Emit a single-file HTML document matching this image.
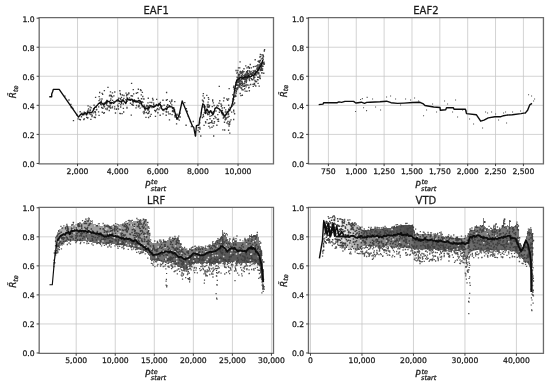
<!DOCTYPE html><html><head><meta charset="utf-8"><style>html,body{margin:0;padding:0;background:#fff;overflow:hidden}svg{display:block}</style></head><body><svg width="550" height="386" viewBox="0 0 550 386">
<style>text{font-family:'DejaVu Sans', 'Liberation Sans', sans-serif;fill:#1c1c1c;stroke:#1c1c1c;stroke-width:0.26px}.t{font-size:7.65px}.ti{font-size:10.0px}.m{font-size:8.9px;font-style:italic}.ms{font-size:6.5px;font-style:italic}.mt{font-size:5px;stroke-width:0.1px}</style>
<rect width="550" height="386" fill="#fff"/>
<path d="M77.53 17.7V163.7M117.66 17.7V163.7M157.79 17.7V163.7M197.92 17.7V163.7M238.05 17.7V163.7M39 134.4H273.4M39 105.34H273.4M39 76.28H273.4M39 47.22H273.4" stroke="#c4c4c4" stroke-width="0.75" fill="none"/>
<path d="M64.2 96.1h1.35M68.3 100.0h1.35M70.2 104.4h1.35M70.6 107.5h1.35M71.0 107.1h1.35M72.2 108.4h1.35M72.8 120.6h1.35M76.1 114.7h1.35M77.4 118.8h1.35M78.9 119.3h1.35M79.5 111.7h1.35M79.7 119.7h1.35M80.8 116.7h1.35M81.3 113.2h1.35M81.4 114.8h1.35M83.1 119.5h1.35M83.6 112.2h1.35M83.7 118.9h1.35M84.2 114.6h1.35M86.0 117.3h1.35M86.7 112.0h1.35M86.9 118.0h1.35M87.2 117.6h1.35M87.3 110.5h1.35M87.4 105.8h1.35M87.9 108.9h1.35M88.3 112.8h1.35M88.7 113.9h1.35M89.2 113.6h1.35M89.3 106.9h1.35M89.4 110.4h1.35M89.8 110.0h1.35M90.2 119.4h1.35M90.2 114.5h1.35M90.4 107.7h1.35M91.3 116.6h1.35M91.5 115.2h1.35M92.5 112.8h1.35M92.9 108.7h1.35M93.4 105.2h1.35M93.5 108.6h1.35M93.6 117.2h1.35M94.0 111.8h1.35M94.4 111.8h1.35M94.6 111.7h1.35M94.7 117.5h1.35M94.8 112.9h1.35M94.9 97.4h1.35M95.1 114.9h1.35M95.3 107.4h1.35M95.7 109.8h1.35M96.1 109.5h1.35M97.9 111.8h1.35M98.0 106.9h1.35M98.4 100.6h1.35M98.4 115.4h1.35M98.5 96.6h1.35M99.0 92.5h1.35M99.0 103.1h1.35M99.2 99.1h1.35M99.8 103.0h1.35M100.0 104.2h1.35M100.6 104.7h1.35M100.6 102.0h1.35M100.7 100.9h1.35M101.0 107.4h1.35M101.3 99.0h1.35M101.4 107.9h1.35M101.5 93.4h1.35M101.6 112.2h1.35M102.0 94.4h1.35M102.2 108.4h1.35M102.8 103.5h1.35M103.1 113.2h1.35M103.2 105.2h1.35M103.4 106.7h1.35M103.7 90.6h1.35M103.7 112.6h1.35M103.9 106.8h1.35M104.2 103.1h1.35M104.4 102.9h1.35M104.9 108.8h1.35M105.2 102.0h1.35M105.7 104.1h1.35M105.7 103.9h1.35M106.2 100.3h1.35M106.3 103.1h1.35M106.4 105.3h1.35M106.4 109.5h1.35M106.5 101.7h1.35M106.6 101.6h1.35M106.6 108.1h1.35M107.3 87.3h1.35M107.4 105.9h1.35M107.7 105.8h1.35M108.0 105.9h1.35M108.3 107.1h1.35M108.6 110.5h1.35M108.8 95.8h1.35M109.3 106.6h1.35M109.3 95.2h1.35M109.3 103.2h1.35M109.5 105.2h1.35M109.5 105.2h1.35M109.8 108.0h1.35M109.8 100.6h1.35M109.8 91.9h1.35M110.2 99.0h1.35M110.6 96.5h1.35M110.6 103.6h1.35M110.7 95.3h1.35M111.4 107.8h1.35M111.8 106.9h1.35M111.8 92.8h1.35M111.8 96.8h1.35M111.9 100.3h1.35M113.2 95.8h1.35M113.2 101.6h1.35M113.9 108.8h1.35M114.0 106.9h1.35M114.1 92.0h1.35M114.8 113.0h1.35M115.7 109.2h1.35M116.0 108.8h1.35M116.6 99.7h1.35M117.1 105.2h1.35M117.5 106.5h1.35M117.6 99.7h1.35M117.8 109.0h1.35M118.1 98.2h1.35M118.4 100.8h1.35M118.4 103.3h1.35M119.2 90.7h1.35M119.2 113.3h1.35M119.6 93.4h1.35M119.7 113.6h1.35M119.8 98.7h1.35M119.9 94.6h1.35M120.0 107.0h1.35M120.1 104.7h1.35M120.2 99.5h1.35M120.8 97.3h1.35M120.8 103.4h1.35M121.0 101.1h1.35M121.4 113.6h1.35M121.7 95.0h1.35M122.2 100.9h1.35M122.6 104.0h1.35M122.7 108.3h1.35M123.0 112.0h1.35M123.2 98.4h1.35M123.3 95.5h1.35M125.2 99.7h1.35M125.4 93.1h1.35M125.5 102.4h1.35M125.9 95.9h1.35M126.2 94.7h1.35M126.3 97.9h1.35M126.3 107.3h1.35M126.3 108.1h1.35M126.3 101.4h1.35M127.1 94.5h1.35M128.1 92.9h1.35M128.2 93.5h1.35M128.5 100.1h1.35M128.8 97.8h1.35M129.8 103.2h1.35M130.5 95.7h1.35M130.6 115.1h1.35M130.9 83.3h1.35M131.1 104.3h1.35M131.8 104.7h1.35M131.8 96.0h1.35M132.1 101.2h1.35M132.2 105.1h1.35M132.5 102.7h1.35M132.6 89.6h1.35M132.6 105.3h1.35M133.0 93.9h1.35M133.0 101.1h1.35M133.5 101.3h1.35M133.9 101.2h1.35M133.9 100.3h1.35M134.9 100.6h1.35M135.3 107.9h1.35M135.4 107.9h1.35M135.6 101.5h1.35M135.7 93.2h1.35M135.9 105.5h1.35M136.3 101.0h1.35M137.0 92.6h1.35M137.5 102.2h1.35M137.6 98.2h1.35M137.7 89.2h1.35M137.7 106.8h1.35M138.1 105.6h1.35M138.2 105.3h1.35M138.3 102.1h1.35M138.6 106.1h1.35M138.9 103.5h1.35M139.4 108.1h1.35M139.5 102.4h1.35M139.5 101.1h1.35M139.9 89.7h1.35M140.0 103.6h1.35M140.4 90.6h1.35M140.5 103.9h1.35M140.6 94.9h1.35M140.8 98.7h1.35M141.4 101.6h1.35M141.5 106.8h1.35M141.7 92.3h1.35M142.1 96.5h1.35M142.2 102.4h1.35M142.6 112.1h1.35M142.7 98.9h1.35M143.2 113.6h1.35M143.3 99.0h1.35M143.5 105.1h1.35M143.5 111.4h1.35M143.5 106.4h1.35M144.1 112.6h1.35M144.2 107.0h1.35M144.5 110.0h1.35M144.6 108.7h1.35M144.9 108.8h1.35M144.9 108.5h1.35M145.1 107.3h1.35M145.3 117.4h1.35M145.9 112.5h1.35M146.0 105.4h1.35M146.1 106.0h1.35M146.5 105.7h1.35M147.1 113.6h1.35M147.2 110.0h1.35M147.2 107.7h1.35M147.3 102.8h1.35M147.4 109.2h1.35M147.6 106.2h1.35M147.6 98.2h1.35M147.8 109.9h1.35M147.8 106.1h1.35M147.9 117.5h1.35M147.9 113.4h1.35M148.0 108.9h1.35M148.0 113.0h1.35M148.6 111.5h1.35M148.9 105.4h1.35M149.4 102.3h1.35M149.6 116.2h1.35M150.5 114.3h1.35M151.1 102.5h1.35M151.3 107.6h1.35M151.9 98.5h1.35M152.4 100.0h1.35M153.0 103.1h1.35M153.0 104.6h1.35M153.5 105.7h1.35M154.0 110.4h1.35M154.8 111.6h1.35M154.8 116.4h1.35M154.9 105.3h1.35M155.3 110.6h1.35M156.0 99.3h1.35M156.2 109.4h1.35M157.0 108.6h1.35M157.2 112.7h1.35M158.3 109.6h1.35M159.3 108.0h1.35M159.3 104.7h1.35M159.4 104.2h1.35M159.5 115.2h1.35M159.7 102.4h1.35M161.1 105.8h1.35M161.1 105.6h1.35M161.1 106.4h1.35M162.3 100.2h1.35M162.4 113.9h1.35M163.2 110.5h1.35M163.4 105.2h1.35M165.5 111.5h1.35M165.5 115.2h1.35M165.7 112.1h1.35M165.7 100.2h1.35M165.9 92.5h1.35M166.0 106.5h1.35M166.6 99.6h1.35M166.9 104.6h1.35M167.3 105.2h1.35M167.5 112.0h1.35M168.1 113.9h1.35M168.8 119.9h1.35M169.1 101.4h1.35M169.6 113.8h1.35M170.0 103.0h1.35M171.1 101.2h1.35M171.1 101.0h1.35M171.1 104.8h1.35M171.2 99.8h1.35M171.4 114.6h1.35M171.8 111.4h1.35M171.8 108.4h1.35M171.9 110.5h1.35M172.5 110.9h1.35M172.7 111.7h1.35M173.1 107.9h1.35M173.6 110.0h1.35M173.9 109.9h1.35M174.1 101.6h1.35M174.2 115.9h1.35M174.3 115.4h1.35M174.5 117.0h1.35M175.2 115.2h1.35M175.9 123.9h1.35M176.3 114.1h1.35M176.3 118.0h1.35M176.4 114.9h1.35M176.8 118.6h1.35M177.3 119.0h1.35M177.7 115.3h1.35M178.6 120.1h1.35M179.1 116.9h1.35M179.3 113.2h1.35M179.5 117.0h1.35M184.1 102.6h1.35M185.4 125.2h1.35M185.7 108.6h1.35M186.3 111.1h1.35M186.5 111.4h1.35M187.7 116.4h1.35M189.7 121.6h1.35M190.7 126.5h1.35M192.6 121.5h1.35M194.8 135.6h1.35M197.4 130.4h1.35M197.7 127.6h1.35M198.6 131.7h1.35M199.1 127.5h1.35M199.2 122.8h1.35M199.3 129.0h1.35M200.1 136.0h1.35M200.7 112.8h1.35M201.7 117.5h1.35M201.8 100.1h1.35M202.0 106.2h1.35M202.1 106.1h1.35M202.2 103.8h1.35M202.4 95.9h1.35M202.4 107.1h1.35M202.5 101.0h1.35M202.6 114.7h1.35M202.7 93.6h1.35M202.8 101.8h1.35M202.9 116.5h1.35M203.4 125.3h1.35M203.6 112.8h1.35M203.7 98.0h1.35M204.5 106.8h1.35M204.7 110.4h1.35M204.8 112.3h1.35M204.9 121.7h1.35M205.1 122.9h1.35M205.8 109.2h1.35M205.8 110.3h1.35M206.1 95.4h1.35M206.2 109.8h1.35M206.2 112.8h1.35M206.5 119.6h1.35M206.6 106.8h1.35M206.6 104.9h1.35M206.7 113.5h1.35M206.9 110.3h1.35M207.0 114.6h1.35M207.3 105.8h1.35M207.3 114.5h1.35M207.4 102.1h1.35M207.4 104.3h1.35M207.4 107.4h1.35M207.7 97.6h1.35M207.7 123.3h1.35M208.1 99.4h1.35M208.2 107.0h1.35M208.3 126.3h1.35M208.4 123.2h1.35M208.5 114.0h1.35M208.6 106.7h1.35M208.7 111.5h1.35M208.8 105.5h1.35M209.3 127.8h1.35M209.3 118.7h1.35M209.3 116.2h1.35M209.6 122.6h1.35M209.7 111.6h1.35M209.8 111.5h1.35M210.9 115.6h1.35M211.0 122.2h1.35M211.2 120.7h1.35M211.3 127.2h1.35M211.3 112.3h1.35M211.6 106.6h1.35M211.6 123.1h1.35M212.0 112.3h1.35M212.0 100.0h1.35M212.0 101.1h1.35M212.7 102.8h1.35M212.8 111.6h1.35M212.8 125.8h1.35M213.0 136.0h1.35M213.1 118.6h1.35M213.3 123.4h1.35M213.4 105.5h1.35M213.8 121.7h1.35M214.3 116.5h1.35M214.7 108.2h1.35M215.2 117.7h1.35M215.3 111.0h1.35M216.0 107.2h1.35M216.0 107.0h1.35M216.2 125.2h1.35M216.7 105.3h1.35M216.7 119.3h1.35M217.1 114.6h1.35M217.5 121.2h1.35M217.6 105.8h1.35M217.8 119.2h1.35M217.9 121.3h1.35M218.4 103.2h1.35M218.6 86.3h1.35M218.7 112.2h1.35M219.0 109.8h1.35M219.1 100.7h1.35M220.3 104.0h1.35M220.6 106.3h1.35M220.6 111.5h1.35M221.1 105.3h1.35M221.5 111.9h1.35M221.5 108.0h1.35M221.7 110.3h1.35M221.8 114.7h1.35M222.2 129.8h1.35M222.6 118.1h1.35M222.9 100.8h1.35M222.9 116.9h1.35M223.2 114.8h1.35M223.4 98.0h1.35M223.7 107.7h1.35M223.8 122.2h1.35M224.0 117.0h1.35M224.0 117.1h1.35M224.0 130.0h1.35M224.5 119.6h1.35M224.7 119.9h1.35M224.7 112.0h1.35M224.7 118.0h1.35M225.0 109.9h1.35M225.2 119.3h1.35M225.8 114.5h1.35M225.9 118.0h1.35M226.2 112.0h1.35M226.2 99.0h1.35M226.3 123.0h1.35M226.8 99.9h1.35M227.1 100.3h1.35M227.3 121.5h1.35M227.3 111.6h1.35M227.3 117.2h1.35M227.3 112.7h1.35M227.3 111.3h1.35M227.5 114.5h1.35M227.7 124.0h1.35M227.9 114.0h1.35M227.9 130.2h1.35M228.0 109.2h1.35M228.0 98.8h1.35M228.0 105.2h1.35M228.4 126.0h1.35M228.4 116.4h1.35M228.5 88.6h1.35M229.0 122.7h1.35M229.0 124.4h1.35M229.1 133.1h1.35M229.2 110.5h1.35M229.3 121.4h1.35M229.3 109.9h1.35M229.4 107.3h1.35M230.3 119.9h1.35M231.0 112.1h1.35M231.4 106.0h1.35M231.9 101.2h1.35M232.1 99.0h1.35M232.2 94.7h1.35M232.5 104.7h1.35M232.9 87.4h1.35M233.0 110.2h1.35M233.0 119.5h1.35M233.1 99.6h1.35M233.1 111.9h1.35M233.2 86.2h1.35M233.3 103.9h1.35M233.6 89.0h1.35M233.7 89.3h1.35M233.7 88.4h1.35M233.9 113.7h1.35M233.9 103.1h1.35M234.0 96.9h1.35M234.0 102.8h1.35M234.1 95.8h1.35M234.9 88.4h1.35M235.0 95.2h1.35M235.1 90.5h1.35M235.2 90.8h1.35M235.2 96.3h1.35M235.3 92.4h1.35M235.4 82.7h1.35M235.4 93.3h1.35M235.4 70.5h1.35M235.5 85.4h1.35M235.6 88.7h1.35M235.7 91.2h1.35M235.8 88.1h1.35M236.0 84.3h1.35M236.2 80.9h1.35M236.2 81.4h1.35M236.2 73.1h1.35M236.5 89.6h1.35M236.5 77.2h1.35M236.6 81.7h1.35M236.8 72.1h1.35M236.9 85.4h1.35M237.0 80.4h1.35M237.0 82.6h1.35M237.1 88.5h1.35M237.1 79.5h1.35M237.1 88.2h1.35M237.2 70.3h1.35M237.2 87.5h1.35M237.3 84.8h1.35M237.3 79.3h1.35M237.3 81.0h1.35M237.7 74.2h1.35M237.7 78.1h1.35M237.7 75.5h1.35M237.8 80.2h1.35M237.8 81.7h1.35M237.8 77.3h1.35M237.8 67.8h1.35M237.9 80.4h1.35M238.0 86.8h1.35M238.0 79.0h1.35M238.1 82.4h1.35M238.1 85.3h1.35M238.3 77.2h1.35M238.4 81.3h1.35M238.4 76.0h1.35M238.5 81.8h1.35M238.6 78.9h1.35M238.6 74.5h1.35M238.7 80.6h1.35M238.8 84.9h1.35M238.8 79.4h1.35M238.9 80.0h1.35M238.9 83.4h1.35M239.0 85.2h1.35M239.0 84.4h1.35M239.0 77.8h1.35M239.0 78.1h1.35M239.1 81.9h1.35M239.1 67.8h1.35M239.1 86.0h1.35M239.2 72.1h1.35M239.2 74.1h1.35M239.3 84.1h1.35M239.4 61.9h1.35M239.4 87.3h1.35M239.5 93.5h1.35M239.7 71.4h1.35M239.7 84.4h1.35M239.7 80.4h1.35M240.2 83.1h1.35M240.2 95.6h1.35M240.3 73.4h1.35M240.5 88.3h1.35M240.5 81.4h1.35M240.5 72.1h1.35M240.6 79.2h1.35M240.6 83.4h1.35M240.6 75.7h1.35M240.6 76.5h1.35M240.8 72.9h1.35M240.8 85.5h1.35M240.8 72.0h1.35M240.9 75.9h1.35M241.0 88.0h1.35M241.0 72.5h1.35M241.1 78.7h1.35M241.2 79.9h1.35M241.2 78.8h1.35M241.3 78.0h1.35M241.3 79.0h1.35M241.4 89.7h1.35M241.4 78.9h1.35M241.4 81.7h1.35M241.5 72.1h1.35M241.6 82.7h1.35M241.6 74.4h1.35M241.6 84.0h1.35M241.7 95.2h1.35M241.8 77.9h1.35M241.8 84.3h1.35M242.0 71.0h1.35M242.0 76.6h1.35M242.0 85.8h1.35M242.0 77.6h1.35M242.3 72.9h1.35M242.4 86.0h1.35M242.4 75.9h1.35M242.6 89.8h1.35M243.1 79.4h1.35M243.1 83.9h1.35M243.2 86.3h1.35M243.3 68.7h1.35M243.3 71.6h1.35M243.3 78.5h1.35M243.3 79.3h1.35M243.4 83.3h1.35M243.5 77.7h1.35M243.6 78.1h1.35M243.6 75.2h1.35M243.7 86.0h1.35M243.7 86.2h1.35M243.8 85.9h1.35M243.9 83.6h1.35M244.0 76.2h1.35M244.0 78.6h1.35M244.0 88.7h1.35M244.1 81.7h1.35M244.1 78.7h1.35M244.3 78.1h1.35M244.3 80.1h1.35M244.4 85.4h1.35M244.5 91.1h1.35M244.5 74.2h1.35M244.7 74.6h1.35M244.8 79.6h1.35M244.9 74.9h1.35M245.0 75.4h1.35M245.1 77.2h1.35M245.1 65.9h1.35M245.3 76.3h1.35M245.3 78.1h1.35M245.4 86.8h1.35M245.5 85.0h1.35M245.5 81.1h1.35M245.5 85.0h1.35M245.5 78.8h1.35M245.5 73.1h1.35M245.6 82.5h1.35M245.7 75.4h1.35M245.8 79.5h1.35M245.8 75.1h1.35M245.9 71.6h1.35M246.0 80.8h1.35M246.1 78.0h1.35M246.2 91.2h1.35M246.2 72.8h1.35M246.3 67.8h1.35M246.3 74.7h1.35M246.5 76.9h1.35M246.6 72.4h1.35M246.6 85.0h1.35M246.6 77.6h1.35M246.7 73.5h1.35M246.8 76.8h1.35M246.8 71.5h1.35M246.8 78.5h1.35M247.0 74.6h1.35M247.0 73.5h1.35M247.0 70.6h1.35M247.1 76.7h1.35M247.2 78.4h1.35M247.2 76.2h1.35M247.3 75.6h1.35M247.3 74.7h1.35M247.4 74.8h1.35M247.6 66.7h1.35M247.7 76.6h1.35M247.9 73.4h1.35M248.0 87.9h1.35M248.1 77.2h1.35M248.2 85.1h1.35M248.3 67.3h1.35M248.4 87.3h1.35M248.6 68.3h1.35M248.6 79.6h1.35M248.6 79.6h1.35M248.7 75.0h1.35M248.7 77.2h1.35M248.7 70.8h1.35M248.7 90.7h1.35M248.8 67.7h1.35M248.9 80.6h1.35M249.0 74.8h1.35M249.1 72.1h1.35M249.2 78.4h1.35M249.2 77.2h1.35M249.5 74.0h1.35M249.6 64.5h1.35M250.0 84.5h1.35M250.1 73.0h1.35M250.2 74.5h1.35M250.4 71.4h1.35M250.7 67.8h1.35M250.8 74.3h1.35M250.9 78.7h1.35M251.1 73.4h1.35M251.2 79.6h1.35M251.2 74.5h1.35M251.7 79.7h1.35M251.8 73.1h1.35M252.0 72.7h1.35M252.1 79.9h1.35M252.3 84.3h1.35M252.5 70.8h1.35M252.6 86.4h1.35M252.8 66.7h1.35M252.9 76.7h1.35M253.1 78.9h1.35M253.1 75.8h1.35M253.2 73.3h1.35M253.2 78.1h1.35M253.2 72.0h1.35M253.2 71.0h1.35M253.2 72.8h1.35M253.3 76.6h1.35M253.3 73.3h1.35M253.3 75.9h1.35M253.4 75.3h1.35M253.4 77.3h1.35M253.4 84.1h1.35M253.7 83.3h1.35M253.8 74.1h1.35M253.8 83.4h1.35M254.0 84.8h1.35M254.1 77.3h1.35M254.3 80.3h1.35M254.4 74.3h1.35M254.5 59.7h1.35M254.5 66.4h1.35M254.6 70.4h1.35M254.6 81.4h1.35M254.6 71.4h1.35M254.8 73.8h1.35M254.9 73.1h1.35M255.1 86.0h1.35M255.3 71.8h1.35M255.3 75.2h1.35M255.3 81.9h1.35M255.4 74.3h1.35M255.9 65.8h1.35M255.9 81.3h1.35M256.2 68.8h1.35M256.2 71.8h1.35M256.2 72.9h1.35M256.3 66.0h1.35M256.4 69.2h1.35M256.4 67.9h1.35M256.6 68.8h1.35M256.8 70.5h1.35M256.8 79.6h1.35M256.8 72.3h1.35M256.9 68.1h1.35M257.1 77.2h1.35M257.1 65.0h1.35M257.2 73.9h1.35M257.3 68.2h1.35M257.3 68.9h1.35M257.3 67.2h1.35M257.3 64.8h1.35M257.3 70.6h1.35M257.4 61.3h1.35M257.4 79.8h1.35M257.4 83.3h1.35M257.7 77.4h1.35M257.9 67.7h1.35M258.0 70.2h1.35M258.0 72.5h1.35M258.1 69.0h1.35M258.1 72.9h1.35M258.2 66.9h1.35M258.2 73.9h1.35M258.3 60.9h1.35M258.5 62.2h1.35M258.5 86.1h1.35M258.6 65.9h1.35M258.7 66.5h1.35M258.8 62.0h1.35M258.8 64.9h1.35M258.8 67.2h1.35M259.1 76.5h1.35M259.2 78.0h1.35M259.2 57.0h1.35M259.2 75.5h1.35M259.3 61.0h1.35M259.5 64.9h1.35M259.6 66.9h1.35M259.6 78.6h1.35M259.7 54.5h1.35M259.7 60.3h1.35M259.7 65.4h1.35M259.7 63.5h1.35M259.8 69.0h1.35M259.8 65.1h1.35M259.8 70.5h1.35M259.9 63.4h1.35M260.0 56.6h1.35M260.3 64.4h1.35M260.5 70.2h1.35M260.5 69.6h1.35M260.6 66.9h1.35M260.7 70.4h1.35M260.7 58.8h1.35M260.8 66.5h1.35M260.9 63.0h1.35M261.0 68.2h1.35M261.1 70.4h1.35M261.2 66.4h1.35M261.2 54.8h1.35M261.2 69.1h1.35M261.2 72.7h1.35M261.3 73.1h1.35M261.3 65.6h1.35M261.4 63.2h1.35M261.5 64.0h1.35M261.8 70.3h1.35M261.9 58.1h1.35M261.9 68.8h1.35M261.9 54.8h1.35M262.1 58.3h1.35M262.2 62.5h1.35M262.3 66.2h1.35M262.4 55.1h1.35M262.4 62.4h1.35M262.5 56.8h1.35M262.5 59.5h1.35M262.6 55.3h1.35M262.8 56.6h1.35M263.0 63.9h1.35M263.1 73.2h1.35M263.2 62.8h1.35M263.3 62.2h1.35M263.4 64.4h1.35M263.6 51.0h1.35M263.7 63.8h1.35M263.9 49.6h1.35" stroke="#404040" stroke-width="1.35" fill="none"/>
<path d="M49.3 96.7 L51.7 96.7 L51.7 94.0 L52.6 91.7 L53.4 89.3 L59.2 89.3 L78.5 117.1 L80.2 115.0 L81.4 113.8 L82.4 114.1 L83.1 115.0 L84.1 113.2 L84.9 113.2 L85.7 112.8 L86.6 115.0 L87.8 112.0 L88.7 112.2 L90.0 112.2 L91.4 112.7 L92.6 111.6 L93.5 109.9 L94.6 107.4 L95.7 107.0 L96.5 106.0 L97.8 104.8 L98.5 103.5 L99.4 103.4 L100.5 102.1 L101.4 102.8 L102.5 103.8 L103.5 104.9 L104.5 104.0 L105.3 103.0 L106.4 102.8 L107.1 100.7 L108.4 101.6 L109.2 101.4 L110.2 102.4 L111.0 103.3 L111.7 102.4 L112.8 102.8 L113.9 103.3 L114.4 102.2 L115.6 101.6 L116.3 100.6 L117.2 101.0 L118.1 100.2 L118.9 101.1 L119.7 101.5 L120.6 101.4 L121.5 102.3 L122.5 100.0 L123.4 99.9 L124.0 101.6 L124.9 102.1 L125.8 103.6 L126.6 101.2 L127.5 98.3 L128.3 99.7 L129.2 99.9 L130.1 99.2 L130.7 100.4 L131.6 99.1 L132.3 99.6 L133.2 101.2 L134.1 99.9 L135.0 101.7 L135.9 101.7 L137.0 102.1 L138.2 100.9 L139.0 100.2 L140.0 101.0 L141.0 101.7 L142.0 105.4 L142.9 105.9 L143.9 106.9 L144.8 108.9 L146.0 108.7 L146.8 108.5 L147.8 108.8 L148.8 107.4 L149.5 107.9 L150.4 105.6 L151.4 105.8 L152.1 106.6 L153.1 106.3 L153.8 107.3 L154.7 106.4 L155.6 106.2 L156.7 104.5 L157.3 105.1 L158.3 105.9 L159.0 103.5 L160.1 104.3 L160.8 106.2 L161.8 108.7 L162.7 110.1 L163.4 109.6 L164.5 109.1 L165.2 109.1 L166.0 108.2 L166.7 109.6 L167.7 107.1 L168.9 107.2 L169.5 105.7 L170.5 106.9 L171.7 106.8 L172.6 107.7 L173.7 108.2 L177.0 119.2 L178.9 116.0 L182.2 101.0 L192.5 126.3 L193.8 127.6 L194.5 131.5 L195.5 136.0 L196.4 125.7 L199.0 125.0 L199.9 118.2 L200.8 115.9 L201.7 109.1 L202.8 104.2 L204.3 105.0 L205.4 113.5 L206.2 110.6 L207.1 109.2 L208.4 112.1 L209.3 112.8 L210.7 110.6 L211.6 112.5 L212.8 114.9 L213.9 112.6 L215.0 108.5 L216.0 107.9 L217.1 107.8 L218.1 108.5 L218.9 108.6 L219.9 109.9 L221.1 110.5 L222.0 113.5 L222.8 112.8 L223.7 115.1 L224.9 116.3 L226.4 113.5 L227.2 112.8 L228.2 111.6 L229.2 110.6 L230.2 108.7 L231.3 107.0 L232.3 103.6 L233.0 101.4 L234.2 92.8 L235.0 88.0 L236.4 81.3 L237.4 79.1 L238.5 79.2 L240.0 77.7 L241.0 77.5 L242.1 78.0 L242.8 78.5 L243.8 77.6 L244.7 77.0 L245.7 77.0 L246.6 77.1 L247.7 77.2 L248.5 75.6 L249.4 76.3 L250.6 76.7 L251.4 76.3 L252.3 74.9 L253.1 75.4 L254.2 74.9 L255.2 73.7 L256.1 72.0 L257.1 71.3 L258.2 69.6 L258.8 69.3 L259.9 67.1 L261.0 65.8 L262.0 62.8 L262.8 60.0" stroke="#0d0d0d" stroke-width="1.35" fill="none" stroke-linejoin="round"/>
<path d="M39.18 17.7H273.5V163.8H39.18Z" fill="none" stroke="#6a6a6a" stroke-width="1.3"/>
<path d="M77.53 163.7v2.4M117.66 163.7v2.4M157.79 163.7v2.4M197.92 163.7v2.4M238.05 163.7v2.4M39 163.46h-2.4M39 134.4h-2.4M39 105.34h-2.4M39 76.28h-2.4M39 47.22h-2.4M39 18.16h-2.4" stroke="#222" stroke-width="0.85" fill="none"/>
<text x="77.53" y="173.75" text-anchor="middle" class="t">2,000</text>
<text x="117.66" y="173.75" text-anchor="middle" class="t">4,000</text>
<text x="157.79" y="173.75" text-anchor="middle" class="t">6,000</text>
<text x="197.92" y="173.75" text-anchor="middle" class="t">8,000</text>
<text x="238.05" y="173.75" text-anchor="middle" class="t">10,000</text>
<text x="34.6" y="166.96" text-anchor="end" class="t">0.0</text>
<text x="34.6" y="137.9" text-anchor="end" class="t">0.2</text>
<text x="34.6" y="108.84" text-anchor="end" class="t">0.4</text>
<text x="34.6" y="79.78" text-anchor="end" class="t">0.6</text>
<text x="34.6" y="50.72" text-anchor="end" class="t">0.8</text>
<text x="34.6" y="21.66" text-anchor="end" class="t">1.0</text>
<text x="156.2" y="14.4" text-anchor="middle" class="ti">EAF1</text>
<text x="145" y="187.7" class="m">P</text>
<text x="151.1" y="184.1" class="ms">te</text>
<text x="150.8" y="190.6" class="ms">start</text>
<g transform="translate(16.3,98.2) rotate(-90)"><text x="0" y="0" class="m">R</text><text x="2.2" y="-3" class="m" style="font-style:normal;font-size:7.5px;stroke-width:0.1px">&#x2DC;</text><text x="6.1" y="1.3" class="ms">te</text></g>
<path d="M328.4 17.7V163.7M356.26 17.7V163.7M384.12 17.7V163.7M411.97 17.7V163.7M439.83 17.7V163.7M467.69 17.7V163.7M495.54 17.7V163.7M523.4 17.7V163.7M308.5 134.4H543.3M308.5 105.34H543.3M308.5 76.28H543.3M308.5 47.22H543.3" stroke="#c4c4c4" stroke-width="0.75" fill="none"/>
<path d="M355.0 111.5h1.1M360.0 99.5h1.1M361.8 98.6h1.1M363.0 107.7h1.1M366.0 110.6h1.1M366.6 97.4h1.1M372.0 99.0h1.1M375.0 107.0h1.1M380.0 110.0h1.1M386.0 97.0h1.1M390.0 96.0h1.1M395.0 99.0h1.1M400.0 105.0h1.1M405.0 99.0h1.1M410.0 100.0h1.1M414.0 98.0h1.1M418.0 101.0h1.1M423.0 115.7h1.1M426.0 110.0h1.1M432.0 104.0h1.1M436.0 112.0h1.1M444.0 101.0h1.1M447.0 104.0h1.1M452.0 112.0h1.1M455.0 100.0h1.1M457.0 117.0h1.1M462.0 110.0h1.1M466.0 111.0h1.1M469.0 119.0h1.1M473.0 124.0h1.1M482.0 128.0h1.1M485.0 112.0h1.1M487.0 113.0h1.1M491.0 112.0h1.1M495.0 114.0h1.1M498.0 120.0h1.1M503.0 113.0h1.1M505.0 112.0h1.1M506.0 123.0h1.1M507.0 115.0h1.1M512.0 112.0h1.1M520.0 111.0h1.1M525.0 113.0h1.1M528.0 94.8h1.1M531.0 96.0h1.1M533.0 101.0h1.1M534.0 99.0h1.1" stroke="#555" stroke-width="1.1" fill="none"/>
<path d="M318.7 104.6 L323.1 104.1 L323.6 102.7 L337.3 102.7 L338.9 101.9 L341.6 102.4 L344.9 101.4 L353.6 101.4 L355.8 103.0 L358.0 102.7 L361.3 102.2 L364.5 103.3 L366.7 102.4 L370.0 102.2 L380.0 101.8 L386.6 101.2 L391.0 102.7 L397.5 103.4 L404.0 103.1 L412.8 102.5 L420.0 102.3 L423.4 103.9 L425.0 105.5 L433.7 107.0 L440.0 107.5 L440.3 110.3 L445.7 109.8 L446.5 107.7 L453.4 107.7 L454.0 109.2 L465.4 109.2 L466.5 113.6 L476.3 114.7 L478.5 117.9 L480.7 121.2 L484.0 120.1 L488.3 117.9 L494.9 116.8 L500.3 116.8 L503.6 115.7 L506.9 115.1 L512.3 114.7 L521.0 113.6 L525.4 112.9 L527.6 110.3 L529.8 104.8 L532.0 103.3" stroke="#0d0d0d" stroke-width="1.4" fill="none" stroke-linejoin="round"/>
<path d="M308.45 17.7H543.45V163.8H308.45Z" fill="none" stroke="#6a6a6a" stroke-width="1.3"/>
<path d="M328.4 163.7v2.4M356.26 163.7v2.4M384.12 163.7v2.4M411.97 163.7v2.4M439.83 163.7v2.4M467.69 163.7v2.4M495.54 163.7v2.4M523.4 163.7v2.4M308.5 163.46h-2.4M308.5 134.4h-2.4M308.5 105.34h-2.4M308.5 76.28h-2.4M308.5 47.22h-2.4M308.5 18.16h-2.4" stroke="#222" stroke-width="0.85" fill="none"/>
<text x="328.4" y="173.75" text-anchor="middle" class="t">750</text>
<text x="356.26" y="173.75" text-anchor="middle" class="t">1,000</text>
<text x="384.12" y="173.75" text-anchor="middle" class="t">1,250</text>
<text x="411.97" y="173.75" text-anchor="middle" class="t">1,500</text>
<text x="439.83" y="173.75" text-anchor="middle" class="t">1,750</text>
<text x="467.69" y="173.75" text-anchor="middle" class="t">2,000</text>
<text x="495.54" y="173.75" text-anchor="middle" class="t">2,250</text>
<text x="523.4" y="173.75" text-anchor="middle" class="t">2,500</text>
<text x="304.1" y="166.96" text-anchor="end" class="t">0.0</text>
<text x="304.1" y="137.9" text-anchor="end" class="t">0.2</text>
<text x="304.1" y="108.84" text-anchor="end" class="t">0.4</text>
<text x="304.1" y="79.78" text-anchor="end" class="t">0.6</text>
<text x="304.1" y="50.72" text-anchor="end" class="t">0.8</text>
<text x="304.1" y="21.66" text-anchor="end" class="t">1.0</text>
<text x="425.9" y="14.4" text-anchor="middle" class="ti">EAF2</text>
<text x="415.3" y="187.7" class="m">P</text>
<text x="421.4" y="184.1" class="ms">te</text>
<text x="421.1" y="190.6" class="ms">start</text>
<g transform="translate(286.8,97.3) rotate(-90)"><text x="0" y="0" class="m">R</text><text x="2.2" y="-3" class="m" style="font-style:normal;font-size:7.5px;stroke-width:0.1px">&#x2DC;</text><text x="6.1" y="1.3" class="ms">te</text></g>
<path d="M76.2 207.3V353.4M115.25 207.3V353.4M154.3 207.3V353.4M193.35 207.3V353.4M232.4 207.3V353.4M271.45 207.3V353.4M39 323.94H273.4M39 294.9H273.4M39 265.86H273.4M39 236.82H273.4" stroke="#c4c4c4" stroke-width="0.75" fill="none"/>
<path d="M53 262.0h1V266.0h-1zM54 250.0h1V259.9h-1zM55 238.0h1V252.7h-1zM56 235.2h1V245.4h-1zM85 220.6h1V231.4h-1zM86 220.0h1V231.6h-1zM87 220.5h1V231.7h-1zM88 218.8h1V231.9h-1z" fill="rgb(168,168,168)" shape-rendering="crispEdges"/>
<path d="M54 259.9h1V261.0h-1zM55 252.7h1V256.0h-1zM56 245.4h1V253.0h-1zM57 240.5h1V250.0h-1zM58 238.9h1V247.0h-1zM59 237.4h1V246.3h-1zM60 235.9h1V245.6h-1zM147 224.1h1V249.5h-1z" fill="rgb(150,150,150)" shape-rendering="crispEdges"/>
<path d="M57 232.3h1V240.5h-1zM58 229.5h1V238.9h-1zM59 229.1h1V237.4h-1zM60 228.6h1V235.9h-1zM61 228.2h1V235.4h-1zM62 227.8h1V234.8h-1zM76 224.2h1V230.8h-1zM77 223.9h1V230.7h-1zM78 223.6h1V230.7h-1zM79 223.3h1V230.8h-1zM80 223.1h1V230.8h-1zM81 222.8h1V230.9h-1zM82 222.5h1V231.0h-1zM83 221.9h1V231.1h-1zM84 221.2h1V231.2h-1z" fill="rgb(174,174,174)" shape-rendering="crispEdges"/>
<path d="M61 235.4h1V244.9h-1zM62 234.8h1V244.1h-1zM63 234.3h1V243.4h-1zM64 233.8h1V242.7h-1zM65 233.4h1V242.0h-1zM148 229.7h1V250.4h-1z" fill="rgb(144,144,144)" shape-rendering="crispEdges"/>
<path d="M63 227.4h1V234.3h-1zM64 226.9h1V233.8h-1zM65 226.5h1V233.4h-1zM66 226.3h1V232.9h-1zM67 226.1h1V232.5h-1zM68 225.9h1V232.3h-1zM69 225.8h1V232.0h-1zM70 225.6h1V231.8h-1zM71 225.4h1V231.6h-1zM72 225.2h1V231.3h-1zM73 222.4h1V231.2h-1zM74 224.7h1V231.1h-1zM75 224.4h1V230.9h-1z" fill="rgb(180,180,180)" shape-rendering="crispEdges"/>
<path d="M66 232.9h1V241.8h-1zM67 232.5h1V241.6h-1zM68 232.3h1V241.4h-1zM69 232.0h1V241.2h-1zM70 231.8h1V241.1h-1zM149 235.4h1V251.3h-1zM150 241.0h1V252.1h-1z" fill="rgb(138,138,138)" shape-rendering="crispEdges"/>
<path d="M71 231.6h1V240.9h-1zM72 231.3h1V240.7h-1zM73 231.2h1V240.5h-1zM74 231.1h1V240.5h-1zM75 230.9h1V240.5h-1zM151 242.0h1V253.0h-1zM152 243.0h1V253.8h-1zM153 242.9h1V254.5h-1zM154 242.8h1V254.9h-1zM155 242.7h1V254.6h-1zM156 242.6h1V254.4h-1zM157 242.5h1V254.0h-1zM158 242.3h1V253.7h-1zM159 242.1h1V253.3h-1zM160 241.9h1V253.0h-1zM161 241.8h1V252.8h-1zM162 241.6h1V252.7h-1zM163 241.4h1V252.5h-1zM164 241.2h1V252.4h-1zM165 241.0h1V252.2h-1zM166 240.6h1V252.0h-1zM167 240.2h1V251.8h-1zM168 239.8h1V251.7h-1zM169 239.4h1V251.9h-1zM170 239.0h1V252.1h-1zM171 238.8h1V252.3h-1zM172 238.5h1V252.5h-1zM173 238.2h1V253.0h-1zM174 238.0h1V253.5h-1zM175 237.8h1V254.0h-1zM176 237.5h1V254.6h-1zM177 237.2h1V255.2h-1zM178 237.0h1V255.9h-1zM179 240.0h1V256.6h-1zM180 243.0h1V257.2h-1z" fill="rgb(132,132,132)" shape-rendering="crispEdges"/>
<path d="M76 230.8h1V240.5h-1zM77 230.7h1V240.5h-1zM78 230.7h1V240.5h-1zM79 230.8h1V240.5h-1zM80 230.8h1V240.5h-1zM81 230.9h1V240.5h-1zM181 246.0h1V257.7h-1zM182 246.8h1V258.2h-1zM183 247.6h1V258.8h-1zM184 248.4h1V258.9h-1zM185 249.2h1V258.6h-1zM186 250.0h1V258.4h-1zM187 249.8h1V258.2h-1zM188 249.6h1V257.6h-1zM189 249.4h1V256.8h-1zM190 249.2h1V256.1h-1zM191 249.0h1V255.3h-1zM192 248.8h1V254.4h-1z" fill="rgb(126,126,126)" shape-rendering="crispEdges"/>
<path d="M82 231.0h1V240.5h-1zM83 231.1h1V240.6h-1zM84 231.2h1V240.8h-1zM193 248.6h1V253.3h-1zM194 248.5h1V253.4h-1zM195 248.4h1V253.7h-1zM196 248.3h1V253.9h-1zM197 248.2h1V254.2h-1zM198 248.1h1V254.5h-1zM199 248.1h1V254.7h-1zM200 248.0h1V255.0h-1zM201 247.9h1V255.2h-1zM202 247.8h1V254.9h-1zM203 247.7h1V254.7h-1zM204 247.7h1V254.4h-1zM205 247.6h1V254.1h-1zM206 247.5h1V253.6h-1zM207 246.9h1V253.1h-1zM208 246.3h1V252.6h-1zM209 245.8h1V252.1h-1zM210 245.2h1V252.0h-1zM211 244.6h1V251.8h-1zM212 241.7h1V251.6h-1zM213 243.3h1V251.4h-1zM214 242.7h1V251.0h-1zM215 242.0h1V250.5h-1zM216 241.3h1V250.0h-1zM217 240.7h1V249.5h-1zM218 240.0h1V248.7h-1zM219 238.5h1V247.8h-1zM220 237.0h1V246.8h-1zM221 235.5h1V246.6h-1zM222 229.5h1V247.0h-1zM223 235.5h1V247.3h-1zM224 237.0h1V248.2h-1zM225 234.3h1V249.3h-1zM226 237.1h1V250.0h-1zM227 240.6h1V249.6h-1zM228 241.2h1V249.2h-1zM229 239.5h1V248.8h-1zM230 242.4h1V248.4h-1zM231 243.0h1V248.0h-1zM232 239.9h1V248.4h-1zM233 242.8h1V248.8h-1zM234 238.6h1V249.3h-1zM235 240.4h1V249.7h-1zM236 238.4h1V250.1h-1zM237 242.4h1V250.2h-1zM238 242.3h1V250.4h-1zM239 242.2h1V250.6h-1zM240 242.1h1V250.7h-1zM241 241.9h1V250.9h-1zM242 241.5h1V251.1h-1zM243 241.1h1V250.9h-1zM244 240.6h1V250.7h-1zM245 240.2h1V250.5h-1zM246 239.8h1V250.2h-1zM247 239.4h1V249.7h-1zM248 239.0h1V249.0h-1zM249 235.1h1V248.2h-1zM250 237.5h1V247.5h-1zM251 234.4h1V247.3h-1zM252 236.0h1V247.9h-1zM253 235.5h1V248.5h-1zM254 235.0h1V249.3h-1zM255 234.5h1V250.3h-1zM256 234.0h1V251.4h-1zM257 233.9h1V252.6h-1zM258 236.8h1V254.5h-1zM259 243.0h1V256.7h-1zM260 248.3h1V260.6h-1z" fill="rgb(120,120,120)" shape-rendering="crispEdges"/>
<path d="M85 231.4h1V240.9h-1zM86 231.6h1V241.0h-1zM87 231.7h1V241.2h-1zM88 231.9h1V241.4h-1zM155 254.6h1V260.2h-1zM156 254.4h1V260.4h-1zM157 254.0h1V260.6h-1zM158 253.7h1V260.8h-1zM159 253.3h1V261.0h-1zM160 253.0h1V261.1h-1zM161 252.8h1V261.3h-1zM162 252.7h1V261.5h-1zM163 252.5h1V261.6h-1zM164 252.4h1V261.8h-1zM165 252.2h1V262.0h-1zM166 252.0h1V262.2h-1zM167 251.8h1V262.3h-1zM168 251.7h1V262.5h-1zM169 251.9h1V262.6h-1zM170 252.1h1V262.8h-1zM171 252.3h1V263.2h-1zM261 253.6h1V264.6h-1zM262 258.9h1V274.0h-1zM263 269.2h1V282.2h-1z" fill="rgb(114,114,114)" shape-rendering="crispEdges"/>
<path d="M89 221.5h1V232.1h-1zM90 222.0h1V232.2h-1zM91 222.5h1V232.5h-1z" fill="rgb(162,162,162)" shape-rendering="crispEdges"/>
<path d="M89 232.1h1V241.6h-1zM90 232.2h1V241.8h-1zM91 232.5h1V241.9h-1zM92 232.7h1V242.1h-1zM93 232.9h1V242.3h-1zM94 233.1h1V242.5h-1zM95 233.3h1V242.7h-1zM96 233.4h1V242.8h-1zM97 233.5h1V243.0h-1zM98 233.6h1V243.2h-1zM99 233.7h1V243.3h-1zM100 234.0h1V243.5h-1zM101 234.5h1V243.6h-1zM102 235.0h1V243.6h-1zM103 235.6h1V243.7h-1zM104 236.1h1V243.8h-1zM105 236.6h1V243.8h-1zM106 236.3h1V243.9h-1zM107 235.9h1V244.0h-1zM108 235.6h1V244.0h-1zM109 235.3h1V244.1h-1zM110 235.0h1V244.2h-1zM111 234.7h1V244.2h-1zM112 234.8h1V244.3h-1zM113 235.2h1V244.4h-1zM114 235.5h1V244.4h-1zM115 235.8h1V244.5h-1zM116 236.2h1V244.6h-1zM117 236.6h1V244.7h-1zM118 236.9h1V244.8h-1zM119 237.3h1V244.9h-1zM120 237.7h1V245.1h-1zM121 237.9h1V245.2h-1zM122 238.0h1V245.3h-1zM123 238.2h1V245.4h-1zM124 238.3h1V245.5h-1zM125 238.4h1V245.6h-1zM126 238.6h1V245.8h-1zM127 239.0h1V246.1h-1zM128 239.4h1V246.3h-1zM129 239.7h1V246.6h-1zM130 240.1h1V246.8h-1zM131 240.4h1V247.0h-1zM132 240.6h1V247.3h-1zM133 240.7h1V247.5h-1zM134 240.8h1V247.8h-1zM135 241.0h1V248.0h-1zM136 241.1h1V248.3h-1zM137 241.9h1V248.6h-1zM138 242.6h1V248.9h-1zM139 243.4h1V249.1h-1zM140 244.2h1V249.4h-1zM141 244.9h1V249.7h-1zM142 245.7h1V250.0h-1zM143 246.4h1V250.5h-1zM144 247.2h1V251.0h-1zM145 247.9h1V251.5h-1zM146 248.7h1V252.0h-1zM147 249.5h1V253.2h-1zM148 250.4h1V254.5h-1zM149 251.3h1V256.3h-1zM150 252.1h1V258.5h-1zM151 253.0h1V259.0h-1zM152 253.8h1V259.5h-1zM153 254.5h1V259.7h-1zM154 254.9h1V259.9h-1zM172 252.5h1V263.6h-1zM173 253.0h1V264.0h-1zM174 253.5h1V264.4h-1zM175 254.0h1V264.8h-1zM176 254.6h1V265.2h-1z" fill="rgb(108,108,108)" shape-rendering="crispEdges"/>
<path d="M92 220.2h1V232.7h-1zM93 223.5h1V232.9h-1zM94 224.0h1V233.1h-1zM95 224.2h1V233.3h-1zM96 224.5h1V233.4h-1zM97 224.8h1V233.5h-1zM98 225.0h1V233.6h-1zM99 225.2h1V233.7h-1zM100 225.5h1V234.0h-1zM101 225.5h1V234.5h-1zM102 225.5h1V235.0h-1zM103 225.5h1V235.6h-1zM104 225.6h1V236.1h-1zM105 225.6h1V236.6h-1zM106 225.6h1V236.3h-1zM107 225.6h1V235.9h-1zM108 225.6h1V235.6h-1zM109 225.6h1V235.3h-1zM110 225.6h1V235.0h-1zM111 225.6h1V234.7h-1zM112 225.7h1V234.8h-1zM113 225.7h1V235.2h-1zM114 225.7h1V235.5h-1zM115 225.7h1V235.8h-1zM116 225.4h1V236.2h-1zM117 225.2h1V236.6h-1zM118 224.9h1V236.9h-1zM119 224.6h1V237.3h-1zM120 224.3h1V237.7h-1zM121 224.1h1V237.9h-1zM122 223.8h1V238.0h-1zM123 223.5h1V238.2h-1zM124 223.3h1V238.3h-1zM125 223.0h1V238.4h-1zM126 222.8h1V238.6h-1zM127 222.6h1V239.0h-1zM128 222.4h1V239.4h-1zM129 222.2h1V239.7h-1zM130 222.0h1V240.1h-1zM131 221.8h1V240.4h-1zM132 221.6h1V240.6h-1zM133 221.4h1V240.7h-1zM134 221.2h1V240.8h-1zM135 221.0h1V241.0h-1zM136 220.9h1V241.1h-1zM137 220.7h1V241.9h-1zM138 220.6h1V242.6h-1zM139 220.4h1V243.4h-1zM140 220.3h1V244.2h-1zM141 220.1h1V244.9h-1zM142 220.0h1V245.7h-1zM143 219.6h1V246.4h-1zM144 219.2h1V247.2h-1zM145 218.9h1V247.9h-1zM146 218.5h1V248.7h-1z" fill="rgb(156,156,156)" shape-rendering="crispEdges"/>
<path d="M177 255.2h1V265.6h-1zM178 255.9h1V266.0h-1zM179 256.6h1V266.7h-1zM180 257.2h1V267.3h-1z" fill="rgb(102,102,102)" shape-rendering="crispEdges"/>
<path d="M181 257.7h1V268.0h-1zM182 258.2h1V268.2h-1zM183 258.8h1V268.4h-1zM184 258.9h1V268.6h-1zM185 258.6h1V268.8h-1zM186 258.4h1V269.0h-1zM187 258.2h1V268.2h-1zM188 257.6h1V267.4h-1zM258 254.5h1V265.0h-1zM259 256.7h1V266.0h-1zM260 260.6h1V272.9h-1zM261 264.6h1V279.8h-1zM262 274.0h1V286.6h-1zM263 282.2h1V289.2h-1z" fill="rgb(96,96,96)" shape-rendering="crispEdges"/>
<path d="M189 256.8h1V266.6h-1zM190 256.1h1V265.8h-1zM191 255.3h1V265.0h-1zM192 254.4h1V264.2h-1zM193 253.3h1V263.4h-1zM194 253.4h1V263.0h-1zM195 253.7h1V263.0h-1zM196 253.9h1V263.0h-1zM197 254.2h1V263.0h-1zM198 254.5h1V263.0h-1zM199 254.7h1V263.0h-1zM200 255.0h1V263.0h-1zM201 255.2h1V263.0h-1zM202 254.9h1V263.0h-1zM203 254.7h1V263.0h-1zM204 254.4h1V263.0h-1zM205 254.1h1V263.0h-1zM206 253.6h1V263.0h-1zM207 253.1h1V263.2h-1zM208 252.6h1V263.3h-1zM209 252.1h1V263.5h-1zM210 252.0h1V263.7h-1zM211 251.8h1V263.8h-1zM212 251.6h1V264.0h-1zM213 251.4h1V263.8h-1zM214 251.0h1V263.7h-1zM215 250.5h1V263.5h-1zM216 250.0h1V263.3h-1zM217 249.5h1V263.2h-1zM218 248.7h1V263.0h-1zM219 247.8h1V262.8h-1zM220 246.8h1V262.5h-1zM221 246.6h1V262.2h-1zM222 247.0h1V262.0h-1zM223 247.3h1V262.0h-1zM224 248.2h1V262.0h-1zM225 249.3h1V262.0h-1zM226 250.0h1V262.0h-1zM227 249.6h1V262.0h-1zM228 249.2h1V262.0h-1zM229 248.8h1V262.0h-1zM230 248.4h1V262.0h-1zM231 248.0h1V262.0h-1zM232 248.4h1V262.1h-1zM233 248.8h1V262.2h-1zM234 249.3h1V262.3h-1zM235 249.7h1V262.4h-1zM236 250.1h1V262.5h-1zM237 250.2h1V262.6h-1zM238 250.4h1V262.7h-1zM239 250.6h1V262.8h-1zM240 250.7h1V262.9h-1zM241 250.9h1V263.0h-1zM242 251.1h1V262.8h-1zM243 250.9h1V262.7h-1zM244 250.7h1V262.5h-1zM245 250.5h1V262.4h-1zM246 250.2h1V262.3h-1zM247 249.7h1V262.1h-1zM248 249.0h1V262.0h-1zM249 248.2h1V262.0h-1zM250 247.5h1V262.0h-1zM251 247.3h1V262.0h-1zM252 247.9h1V262.0h-1zM253 248.5h1V262.2h-1zM254 249.3h1V262.5h-1zM255 250.3h1V262.8h-1zM256 251.4h1V263.0h-1zM257 252.6h1V264.0h-1z" fill="rgb(90,90,90)" shape-rendering="crispEdges"/>
<path d="M53.5 260.3h1.5M53.7 253.1h1.5M53.9 262.7h1.5M54.9 241.3h1.5M54.9 245.8h1.5M55.6 252.9h1.5M55.7 250.2h1.5M55.7 241.6h1.5M56.1 236.8h1.5M56.2 245.1h1.5M56.5 246.3h1.5M56.6 239.1h1.5M56.8 250.1h1.5M56.8 235.2h1.5M57.3 240.1h1.5M57.3 249.1h1.5M57.4 237.2h1.5M57.6 234.0h1.5M57.8 238.5h1.5M57.9 245.5h1.5M58.0 230.9h1.5M58.1 246.2h1.5M58.3 243.7h1.5M58.5 239.8h1.5M58.9 242.3h1.5M58.9 233.5h1.5M59.2 239.5h1.5M60.0 241.7h1.5M60.4 232.2h1.5M60.6 243.4h1.5M60.6 237.3h1.5M60.8 236.5h1.5M60.9 238.4h1.5M61.6 228.0h1.5M61.8 237.8h1.5M61.8 243.2h1.5M62.3 239.0h1.5M62.6 234.4h1.5M62.6 241.5h1.5M62.8 239.5h1.5M63.0 237.3h1.5M63.0 234.2h1.5M63.8 237.9h1.5M64.0 235.2h1.5M64.3 241.3h1.5M64.9 227.4h1.5M64.9 228.8h1.5M65.4 240.4h1.5M65.7 237.1h1.5M65.8 233.4h1.5M66.2 230.6h1.5M66.4 226.0h1.5M66.4 233.5h1.5M66.4 237.8h1.5M66.6 239.1h1.5M66.8 228.1h1.5M67.0 229.3h1.5M67.0 227.2h1.5M67.3 230.7h1.5M67.6 228.9h1.5M67.8 239.6h1.5M68.2 233.5h1.5M68.6 233.6h1.5M69.3 236.7h1.5M69.7 239.6h1.5M69.7 241.1h1.5M70.4 236.9h1.5M70.8 228.3h1.5M70.8 237.3h1.5M71.1 236.2h1.5M71.3 233.5h1.5M71.7 236.7h1.5M71.9 228.1h1.5M72.5 238.9h1.5M72.6 222.6h1.5M72.9 227.7h1.5M72.9 227.0h1.5M73.4 229.8h1.5M74.6 240.5h1.5M75.1 238.3h1.5M75.2 235.7h1.5M75.5 237.6h1.5M75.6 227.4h1.5M75.9 234.1h1.5M75.9 229.0h1.5M76.0 229.9h1.5M76.4 230.6h1.5M76.4 233.2h1.5M76.5 240.5h1.5M76.7 227.3h1.5M76.8 239.8h1.5M76.8 236.0h1.5M76.8 227.9h1.5M76.8 225.2h1.5M76.9 239.9h1.5M77.4 224.6h1.5M77.5 223.7h1.5M77.8 226.6h1.5M77.8 226.2h1.5M78.3 224.7h1.5M78.8 226.2h1.5M78.9 235.9h1.5M79.0 240.3h1.5M79.1 230.9h1.5M79.2 223.0h1.5M79.4 230.8h1.5M79.7 240.5h1.5M79.7 239.2h1.5M80.1 233.6h1.5M80.2 235.3h1.5M80.6 234.5h1.5M80.7 235.9h1.5M80.7 225.9h1.5M80.8 225.3h1.5M80.9 226.4h1.5M80.9 224.9h1.5M81.0 228.2h1.5M81.0 233.0h1.5M81.5 233.2h1.5M81.5 233.4h1.5M82.0 238.4h1.5M82.8 232.4h1.5M82.8 236.4h1.5M83.5 231.3h1.5M83.5 223.6h1.5M83.6 232.6h1.5M83.6 237.0h1.5M83.8 231.4h1.5M84.1 227.4h1.5M84.3 221.4h1.5M84.6 238.9h1.5M84.7 221.5h1.5M84.8 223.5h1.5M85.0 228.8h1.5M85.6 235.9h1.5M85.7 233.5h1.5M85.8 223.4h1.5M85.9 228.6h1.5M86.5 229.0h1.5M86.5 229.6h1.5M86.8 238.5h1.5M86.8 219.9h1.5M86.8 231.6h1.5M86.9 220.9h1.5M86.9 227.6h1.5M87.2 232.0h1.5M87.7 221.1h1.5M87.7 225.6h1.5M87.9 220.0h1.5M88.5 223.9h1.5M88.6 224.9h1.5M89.4 223.8h1.5M89.9 223.6h1.5M89.9 232.2h1.5M90.1 240.9h1.5M90.3 232.1h1.5M90.5 233.5h1.5M90.6 228.9h1.5M91.2 236.2h1.5M91.5 238.8h1.5M91.7 231.2h1.5M91.7 232.5h1.5M91.8 231.0h1.5M91.9 231.2h1.5M92.0 240.2h1.5M92.6 236.8h1.5M92.7 231.7h1.5M94.5 237.4h1.5M95.6 225.8h1.5M95.7 239.9h1.5M96.6 225.7h1.5M96.6 231.5h1.5M96.8 234.9h1.5M96.9 237.7h1.5M97.5 235.1h1.5M97.7 242.6h1.5M98.0 235.1h1.5M98.2 236.5h1.5M98.7 234.8h1.5M98.9 236.2h1.5M99.2 233.3h1.5M99.5 228.7h1.5M99.5 232.9h1.5M99.6 240.5h1.5M99.7 241.7h1.5M100.3 233.3h1.5M100.4 235.2h1.5M101.0 239.3h1.5M101.0 236.7h1.5M102.0 243.5h1.5M102.4 229.0h1.5M102.7 239.9h1.5M102.9 238.8h1.5M103.1 235.3h1.5M103.1 227.4h1.5M103.4 227.6h1.5M103.5 226.1h1.5M103.6 232.2h1.5M103.7 230.3h1.5M104.1 225.3h1.5M104.2 239.5h1.5M104.3 230.4h1.5M104.7 235.2h1.5M104.8 238.9h1.5M105.3 226.4h1.5M105.4 231.4h1.5M105.5 236.4h1.5M105.5 236.4h1.5M105.6 243.0h1.5M105.8 232.1h1.5M106.5 234.8h1.5M106.6 238.5h1.5M106.7 234.4h1.5M106.8 233.3h1.5M106.8 227.3h1.5M106.8 225.4h1.5M107.1 231.3h1.5M107.2 242.9h1.5M107.5 238.6h1.5M107.5 226.0h1.5M107.6 238.5h1.5M107.7 238.3h1.5M107.9 235.6h1.5M107.9 235.0h1.5M108.1 238.3h1.5M108.6 243.6h1.5M108.6 226.4h1.5M108.7 242.5h1.5M108.8 227.5h1.5M109.0 240.7h1.5M109.2 242.4h1.5M109.4 244.0h1.5M109.4 231.4h1.5M109.5 237.5h1.5M109.5 228.4h1.5M109.5 234.5h1.5M109.6 228.0h1.5M109.6 242.5h1.5M109.6 227.3h1.5M109.6 241.1h1.5M109.7 243.9h1.5M110.3 230.7h1.5M110.7 234.9h1.5M110.8 241.7h1.5M110.8 228.3h1.5M110.9 238.1h1.5M111.2 236.3h1.5M111.5 241.6h1.5M111.5 226.2h1.5M111.6 230.8h1.5M111.6 233.2h1.5M111.8 237.0h1.5M111.9 229.9h1.5M112.1 238.2h1.5M112.2 234.1h1.5M112.3 238.8h1.5M113.0 225.2h1.5M113.6 229.5h1.5M113.6 226.3h1.5M113.9 227.9h1.5M114.0 231.0h1.5M114.4 239.8h1.5M114.5 226.2h1.5M114.7 233.3h1.5M114.8 227.9h1.5M115.1 240.2h1.5M115.2 241.0h1.5M115.4 229.8h1.5M115.5 236.4h1.5M115.6 240.2h1.5M116.2 244.7h1.5M116.2 226.7h1.5M116.7 228.5h1.5M116.7 244.5h1.5M116.9 231.2h1.5M117.0 225.0h1.5M117.2 243.1h1.5M117.3 241.9h1.5M117.8 239.5h1.5M117.9 240.4h1.5M118.0 244.4h1.5M118.7 229.0h1.5M119.4 229.7h1.5M119.7 237.5h1.5M119.8 244.1h1.5M120.4 233.8h1.5M120.4 233.3h1.5M120.5 239.1h1.5M120.6 234.7h1.5M120.8 236.4h1.5M120.9 237.9h1.5M121.0 244.6h1.5M121.0 238.4h1.5M121.5 244.3h1.5M121.6 242.9h1.5M121.7 241.3h1.5M121.7 230.1h1.5M121.7 233.4h1.5M121.9 225.1h1.5M121.9 243.7h1.5M122.4 235.7h1.5M122.5 230.6h1.5M122.7 242.8h1.5M123.0 235.1h1.5M123.3 240.4h1.5M123.4 226.6h1.5M123.6 244.3h1.5M123.6 235.7h1.5M123.7 244.6h1.5M123.7 225.8h1.5M124.3 230.0h1.5M124.5 224.6h1.5M124.6 234.9h1.5M124.7 239.9h1.5M124.9 242.3h1.5M125.0 226.8h1.5M125.4 242.0h1.5M125.5 239.7h1.5M125.5 229.2h1.5M125.6 229.8h1.5M125.6 238.8h1.5M125.7 231.4h1.5M125.7 237.6h1.5M125.8 225.5h1.5M126.0 228.0h1.5M126.4 231.9h1.5M126.6 231.1h1.5M126.6 223.6h1.5M126.7 226.9h1.5M126.8 238.9h1.5M127.6 229.5h1.5M127.6 228.2h1.5M128.8 241.0h1.5M128.8 224.7h1.5M128.8 244.8h1.5M129.2 234.0h1.5M129.3 244.2h1.5M129.5 240.2h1.5M129.7 234.5h1.5M129.8 243.4h1.5M130.5 246.8h1.5M130.9 243.7h1.5M131.0 239.6h1.5M131.1 243.9h1.5M131.2 241.7h1.5M131.3 241.8h1.5M131.3 232.6h1.5M131.6 246.4h1.5M131.6 229.8h1.5M131.7 225.0h1.5M132.3 243.0h1.5M132.6 235.2h1.5M133.0 229.0h1.5M133.1 235.5h1.5M133.5 226.8h1.5M133.6 241.8h1.5M133.7 239.4h1.5M133.7 237.7h1.5M133.8 230.8h1.5M133.8 231.2h1.5M133.9 230.3h1.5M133.9 224.2h1.5M134.0 245.1h1.5M134.0 233.3h1.5M134.5 235.4h1.5M134.5 230.8h1.5M134.8 243.4h1.5M135.1 239.2h1.5M135.1 238.5h1.5M135.3 247.3h1.5M135.4 233.1h1.5M135.4 243.2h1.5M135.5 237.0h1.5M135.5 244.1h1.5M135.6 236.7h1.5M135.7 238.7h1.5M135.9 247.3h1.5M136.2 233.1h1.5M136.3 234.0h1.5M136.3 248.4h1.5M136.5 236.0h1.5M136.6 226.6h1.5M136.8 241.8h1.5M136.9 222.3h1.5M136.9 235.8h1.5M137.2 221.2h1.5M137.7 248.6h1.5M137.7 240.2h1.5M137.8 225.5h1.5M137.8 237.7h1.5M137.9 242.1h1.5M138.0 233.4h1.5M138.0 224.0h1.5M138.1 236.9h1.5M138.3 227.1h1.5M138.6 241.4h1.5M138.7 235.0h1.5M138.8 235.7h1.5M138.9 228.5h1.5M138.9 221.5h1.5M139.2 234.5h1.5M139.3 220.3h1.5M139.3 222.3h1.5M139.5 237.9h1.5M139.5 223.9h1.5M139.6 228.6h1.5M139.7 249.2h1.5M139.7 230.8h1.5M139.8 231.2h1.5M140.0 230.8h1.5M140.5 224.0h1.5M140.8 240.4h1.5M140.8 233.6h1.5M141.1 240.8h1.5M141.1 239.1h1.5M141.1 245.7h1.5M141.2 230.6h1.5M141.3 230.5h1.5M141.5 226.7h1.5M141.6 241.2h1.5M141.7 241.6h1.5M142.0 247.8h1.5M142.0 232.1h1.5M142.3 225.1h1.5M142.6 228.3h1.5M142.7 219.2h1.5M142.8 249.7h1.5M142.8 222.0h1.5M142.9 227.7h1.5M143.0 234.3h1.5M143.1 222.8h1.5M143.2 223.4h1.5M143.3 227.0h1.5M143.4 223.0h1.5M143.6 244.7h1.5M143.6 241.5h1.5M143.6 233.3h1.5M143.6 239.0h1.5M143.7 236.8h1.5M143.7 249.9h1.5M143.9 241.6h1.5M143.9 247.0h1.5M144.0 239.7h1.5M144.2 221.6h1.5M144.8 233.9h1.5M144.8 219.9h1.5M144.9 228.9h1.5M144.9 225.1h1.5M145.0 246.2h1.5M145.4 246.3h1.5M145.5 251.1h1.5M145.7 237.6h1.5M145.9 241.6h1.5M146.0 236.7h1.5M146.5 232.4h1.5M146.7 243.9h1.5M146.8 249.9h1.5M146.8 252.4h1.5M146.9 243.7h1.5M147.0 241.8h1.5M147.0 222.4h1.5M147.2 234.0h1.5M147.4 240.2h1.5M147.6 231.8h1.5M147.7 242.9h1.5M147.7 226.9h1.5M147.9 230.7h1.5M148.1 244.4h1.5M148.8 241.3h1.5M148.9 233.6h1.5M149.0 252.1h1.5M149.6 249.5h1.5M149.7 245.9h1.5M149.8 254.5h1.5M150.6 249.6h1.5M151.1 250.4h1.5M151.1 251.1h1.5M151.5 250.1h1.5M151.6 252.8h1.5M151.7 248.9h1.5M151.9 259.5h1.5M152.3 255.8h1.5M152.4 254.2h1.5M152.7 245.5h1.5M152.8 245.9h1.5M153.1 247.6h1.5M153.3 248.4h1.5M153.6 249.2h1.5M153.6 254.7h1.5M153.7 256.8h1.5M153.7 259.3h1.5M153.9 259.9h1.5M154.1 250.4h1.5M155.4 249.7h1.5M155.6 259.8h1.5M155.7 251.4h1.5M155.9 250.5h1.5M156.7 242.6h1.5M156.8 251.0h1.5M156.8 249.3h1.5M156.8 259.1h1.5M157.0 257.1h1.5M157.6 254.0h1.5M157.6 247.7h1.5M157.7 254.5h1.5M157.7 258.7h1.5M158.6 243.4h1.5M158.7 254.5h1.5M158.8 260.2h1.5M158.9 247.8h1.5M159.1 256.1h1.5M159.4 254.9h1.5M159.5 246.2h1.5M159.6 252.8h1.5M160.3 254.1h1.5M160.3 241.5h1.5M160.6 260.9h1.5M160.7 248.2h1.5M160.8 244.5h1.5M161.4 251.2h1.5M161.5 254.3h1.5M161.6 247.5h1.5M162.0 252.5h1.5M162.2 250.4h1.5M162.6 250.3h1.5M162.9 255.5h1.5M163.1 241.9h1.5M163.8 246.7h1.5M163.8 245.1h1.5M163.9 246.8h1.5M163.9 259.5h1.5M163.9 251.9h1.5M164.0 251.3h1.5M164.2 241.4h1.5M164.3 244.6h1.5M164.5 246.3h1.5M164.6 248.4h1.5M164.9 242.0h1.5M165.3 254.7h1.5M165.5 251.5h1.5M166.1 258.0h1.5M166.5 256.4h1.5M166.5 260.1h1.5M166.6 255.2h1.5M166.6 254.9h1.5M166.9 260.3h1.5M167.0 246.6h1.5M167.0 246.8h1.5M167.5 249.8h1.5M167.7 253.3h1.5M167.8 258.6h1.5M167.9 251.8h1.5M168.1 252.9h1.5M168.4 259.7h1.5M168.4 248.3h1.5M168.9 252.4h1.5M169.0 252.8h1.5M169.0 252.9h1.5M169.1 252.0h1.5M169.2 258.1h1.5M169.3 250.6h1.5M169.7 257.0h1.5M169.8 244.2h1.5M169.9 258.4h1.5M169.9 260.3h1.5M170.0 259.3h1.5M170.0 241.4h1.5M170.0 250.6h1.5M170.5 242.5h1.5M170.6 251.6h1.5M170.7 258.2h1.5M170.8 261.9h1.5M170.9 257.4h1.5M171.0 253.3h1.5M171.3 258.4h1.5M171.4 252.0h1.5M171.4 247.0h1.5M171.6 252.4h1.5M171.6 259.0h1.5M171.7 254.7h1.5M171.7 244.7h1.5M171.9 238.3h1.5M171.9 251.0h1.5M171.9 247.0h1.5M172.0 261.3h1.5M172.0 251.7h1.5M172.3 240.8h1.5M172.5 247.8h1.5M172.7 253.8h1.5M172.8 257.4h1.5M172.8 261.7h1.5M173.4 264.1h1.5M173.5 239.3h1.5M173.6 248.9h1.5M173.7 252.3h1.5M174.1 255.3h1.5M174.2 253.7h1.5M174.3 250.2h1.5M174.4 238.2h1.5M174.6 252.1h1.5M174.6 261.5h1.5M174.6 246.2h1.5M174.7 255.7h1.5M174.8 249.1h1.5M174.8 257.3h1.5M175.0 264.1h1.5M175.3 244.2h1.5M175.3 250.2h1.5M175.5 255.5h1.5M175.6 263.7h1.5M175.6 241.5h1.5M175.6 251.4h1.5M175.8 260.5h1.5M175.8 247.9h1.5M175.9 243.0h1.5M176.0 259.4h1.5M176.1 240.6h1.5M176.8 239.1h1.5M176.9 242.8h1.5M176.9 249.3h1.5M176.9 255.5h1.5M176.9 252.1h1.5M177.1 248.6h1.5M177.5 252.2h1.5M177.8 252.8h1.5M177.8 263.1h1.5M177.8 240.7h1.5M178.2 243.6h1.5M178.6 254.3h1.5M178.7 256.5h1.5M178.7 259.1h1.5M178.8 251.6h1.5M178.8 249.6h1.5M178.9 259.9h1.5M179.2 247.3h1.5M179.8 260.6h1.5M180.2 252.0h1.5M180.2 257.9h1.5M180.2 244.6h1.5M180.2 267.3h1.5M180.2 243.9h1.5M180.4 250.0h1.5M180.4 260.7h1.5M180.5 249.1h1.5M180.7 253.2h1.5M180.8 263.9h1.5M180.9 261.3h1.5M181.2 251.5h1.5M181.5 254.9h1.5M181.7 265.0h1.5M181.8 252.3h1.5M181.9 249.4h1.5M181.9 262.7h1.5M182.2 252.2h1.5M182.6 261.6h1.5M182.7 263.1h1.5M182.7 264.1h1.5M182.9 267.0h1.5M183.0 263.5h1.5M183.5 253.5h1.5M184.5 257.6h1.5M184.6 254.3h1.5M184.7 259.5h1.5M185.2 260.5h1.5M185.3 263.2h1.5M186.0 267.8h1.5M186.1 265.6h1.5M186.1 258.5h1.5M186.2 251.9h1.5M186.4 266.8h1.5M186.4 269.2h1.5M186.9 252.4h1.5M187.2 251.9h1.5M187.3 259.5h1.5M187.4 257.6h1.5M187.6 251.6h1.5M187.6 253.4h1.5M188.0 262.0h1.5M188.6 262.1h1.5M188.7 256.1h1.5M188.9 255.7h1.5M189.0 249.2h1.5M189.0 263.4h1.5M189.9 265.5h1.5M190.0 259.7h1.5M190.1 259.1h1.5M191.0 250.4h1.5M191.1 262.4h1.5M191.5 256.0h1.5M191.7 250.4h1.5M191.8 254.8h1.5M192.3 263.8h1.5M192.5 256.0h1.5M192.7 262.7h1.5M193.0 255.0h1.5M193.1 259.5h1.5M193.3 262.0h1.5M193.6 261.0h1.5M193.7 257.7h1.5M194.1 262.5h1.5M194.3 261.6h1.5M194.5 248.5h1.5M194.6 255.8h1.5M195.3 249.7h1.5M195.5 257.3h1.5M196.5 253.1h1.5M196.6 258.0h1.5M196.8 254.8h1.5M196.9 255.4h1.5M197.6 262.1h1.5M197.7 255.3h1.5M197.7 249.5h1.5M197.8 258.5h1.5M198.0 252.5h1.5M198.3 247.7h1.5M198.6 252.2h1.5M198.6 254.3h1.5M198.8 260.2h1.5M198.8 259.1h1.5M198.9 258.2h1.5M198.9 251.8h1.5M199.0 256.7h1.5M199.1 259.1h1.5M199.5 249.4h1.5M199.7 254.0h1.5M199.8 254.4h1.5M201.1 259.9h1.5M201.4 259.9h1.5M201.4 247.9h1.5M201.7 252.0h1.5M201.8 249.3h1.5M201.9 258.8h1.5M202.1 255.1h1.5M202.4 260.1h1.5M202.6 257.1h1.5M203.5 253.6h1.5M203.8 260.5h1.5M204.5 253.8h1.5M204.6 248.0h1.5M204.8 262.5h1.5M205.0 250.4h1.5M205.6 253.0h1.5M205.7 253.1h1.5M206.0 252.7h1.5M206.1 263.1h1.5M206.8 253.2h1.5M207.1 254.5h1.5M208.0 253.2h1.5M208.3 261.9h1.5M208.5 246.8h1.5M208.9 260.2h1.5M209.6 262.1h1.5M209.6 248.8h1.5M209.6 255.8h1.5M209.7 259.8h1.5M209.8 251.7h1.5M210.1 253.0h1.5M210.3 254.5h1.5M210.5 252.3h1.5M210.5 247.4h1.5M210.6 258.6h1.5M210.7 254.4h1.5M210.9 262.8h1.5M211.3 251.7h1.5M211.5 262.9h1.5M211.5 253.5h1.5M211.5 248.8h1.5M212.1 245.4h1.5M212.5 261.2h1.5M212.8 256.2h1.5M212.9 261.5h1.5M213.5 261.3h1.5M213.5 256.3h1.5M213.6 246.5h1.5M213.6 245.4h1.5M213.8 250.0h1.5M213.9 259.0h1.5M214.6 261.9h1.5M214.7 243.5h1.5M214.7 259.4h1.5M214.9 247.4h1.5M215.2 246.5h1.5M215.3 250.7h1.5M215.8 255.7h1.5M215.8 253.5h1.5M215.9 260.6h1.5M216.0 245.3h1.5M216.1 240.9h1.5M216.2 256.7h1.5M216.5 262.2h1.5M216.8 240.8h1.5M216.8 259.5h1.5M216.8 242.8h1.5M217.0 262.0h1.5M217.8 263.0h1.5M218.2 248.7h1.5M218.2 262.8h1.5M218.3 249.7h1.5M218.5 243.5h1.5M218.6 258.8h1.5M218.7 243.4h1.5M219.1 239.8h1.5M219.5 260.3h1.5M219.5 241.4h1.5M219.5 251.0h1.5M219.6 249.2h1.5M219.7 239.0h1.5M219.7 257.5h1.5M219.8 259.5h1.5M219.9 245.5h1.5M220.2 252.1h1.5M220.5 248.3h1.5M220.6 242.4h1.5M220.6 242.8h1.5M220.7 242.8h1.5M220.7 253.1h1.5M220.7 253.2h1.5M220.8 243.3h1.5M220.8 238.0h1.5M220.8 258.2h1.5M221.2 237.7h1.5M221.2 236.9h1.5M221.2 242.2h1.5M221.5 243.6h1.5M221.6 243.1h1.5M221.6 249.9h1.5M221.6 253.9h1.5M221.7 240.0h1.5M221.7 245.2h1.5M221.9 241.3h1.5M221.9 245.1h1.5M221.9 252.4h1.5M221.9 252.5h1.5M222.0 237.9h1.5M222.1 239.7h1.5M222.3 241.7h1.5M222.5 235.1h1.5M222.6 259.8h1.5M222.6 259.0h1.5M222.6 247.1h1.5M222.9 243.4h1.5M223.6 235.9h1.5M223.9 255.0h1.5M224.0 260.0h1.5M224.0 242.1h1.5M224.7 259.7h1.5M225.0 260.7h1.5M225.0 252.0h1.5M225.3 240.5h1.5M225.7 244.8h1.5M225.7 261.2h1.5M225.8 245.7h1.5M226.0 243.3h1.5M226.1 244.6h1.5M226.7 239.9h1.5M226.9 262.2h1.5M226.9 249.8h1.5M227.5 248.9h1.5M227.6 247.4h1.5M227.8 259.7h1.5M228.0 250.0h1.5M228.1 243.2h1.5M228.4 261.3h1.5M228.6 252.1h1.5M228.7 248.8h1.5M228.7 257.2h1.5M228.8 244.1h1.5M228.9 259.2h1.5M229.1 239.1h1.5M229.2 256.8h1.5M230.0 246.3h1.5M230.5 256.8h1.5M230.6 250.7h1.5M231.2 255.0h1.5M231.6 246.9h1.5M231.7 262.0h1.5M232.5 239.6h1.5M232.6 250.4h1.5M232.7 247.9h1.5M232.8 254.7h1.5M232.8 249.6h1.5M232.9 243.9h1.5M233.0 244.9h1.5M233.2 251.8h1.5M234.6 239.1h1.5M234.7 241.4h1.5M234.8 244.0h1.5M234.9 252.3h1.5M234.9 248.5h1.5M235.0 244.5h1.5M235.2 245.1h1.5M235.9 261.8h1.5M236.6 262.3h1.5M236.8 257.9h1.5M236.9 249.9h1.5M237.0 261.1h1.5M237.4 249.6h1.5M237.6 260.0h1.5M237.7 251.1h1.5M238.2 251.7h1.5M238.6 247.6h1.5M238.8 251.9h1.5M239.6 250.2h1.5M239.7 254.0h1.5M239.7 255.5h1.5M240.1 247.9h1.5M240.6 248.8h1.5M240.7 259.3h1.5M241.0 245.8h1.5M241.7 250.2h1.5M241.7 250.0h1.5M241.8 260.5h1.5M241.9 244.2h1.5M241.9 251.5h1.5M242.0 256.0h1.5M242.6 247.1h1.5M243.2 256.5h1.5M243.5 260.2h1.5M243.5 251.3h1.5M243.6 257.1h1.5M243.8 260.5h1.5M243.8 261.1h1.5M244.0 257.7h1.5M244.3 258.6h1.5M244.3 240.6h1.5M244.4 257.3h1.5M244.5 258.9h1.5M245.0 253.2h1.5M245.6 252.4h1.5M245.6 254.8h1.5M245.8 254.0h1.5M245.8 261.0h1.5M245.8 242.8h1.5M246.6 258.1h1.5M246.7 261.8h1.5M246.8 257.5h1.5M246.9 262.2h1.5M247.3 247.9h1.5M247.3 244.0h1.5M247.4 250.5h1.5M247.7 240.5h1.5M247.8 240.8h1.5M247.9 262.2h1.5M248.1 249.9h1.5M248.4 251.1h1.5M248.6 258.8h1.5M248.9 254.4h1.5M249.2 252.5h1.5M249.3 243.5h1.5M249.5 236.4h1.5M249.6 248.9h1.5M249.6 254.8h1.5M249.7 262.1h1.5M249.8 258.7h1.5M250.5 260.9h1.5M250.5 246.1h1.5M250.6 241.3h1.5M250.8 236.4h1.5M250.9 257.0h1.5M251.0 257.7h1.5M251.1 259.1h1.5M251.1 255.1h1.5M251.2 239.5h1.5M251.3 261.7h1.5M251.4 237.0h1.5M251.5 259.0h1.5M251.6 254.3h1.5M251.6 247.1h1.5M251.6 248.4h1.5M251.8 244.4h1.5M252.0 241.0h1.5M252.1 259.4h1.5M252.1 241.2h1.5M253.0 236.4h1.5M253.2 235.7h1.5M253.2 241.0h1.5M253.4 253.7h1.5M253.7 254.2h1.5M253.7 254.4h1.5M253.8 260.1h1.5M253.9 247.9h1.5M254.0 246.8h1.5M254.1 242.8h1.5M254.1 246.4h1.5M254.2 236.2h1.5M254.5 253.9h1.5M254.6 260.5h1.5M254.6 247.5h1.5M254.6 259.7h1.5M254.8 239.1h1.5M254.9 251.0h1.5M254.9 261.4h1.5M254.9 253.5h1.5M255.0 241.1h1.5M255.1 261.1h1.5M255.1 245.4h1.5M255.3 236.3h1.5M255.4 260.7h1.5M255.4 237.4h1.5M255.7 253.0h1.5M255.8 244.5h1.5M255.9 249.7h1.5M256.3 248.7h1.5M256.6 253.8h1.5M256.7 252.1h1.5M256.7 249.0h1.5M256.7 253.4h1.5M257.1 263.7h1.5M257.3 246.4h1.5M257.5 259.6h1.5M257.6 247.9h1.5M258.3 263.6h1.5M258.5 264.7h1.5M258.6 261.7h1.5M258.6 255.6h1.5M258.8 260.3h1.5M258.9 257.2h1.5M259.0 258.6h1.5M259.1 262.8h1.5M259.2 251.8h1.5M259.3 249.3h1.5M259.3 263.6h1.5M259.4 247.0h1.5M259.5 255.6h1.5M259.5 254.0h1.5M259.7 265.6h1.5M259.8 268.8h1.5M259.9 260.9h1.5M259.9 243.1h1.5M259.9 253.5h1.5M260.0 263.8h1.5M260.2 250.5h1.5M260.3 254.3h1.5M260.7 251.3h1.5M260.7 252.3h1.5M260.7 252.8h1.5M260.8 253.5h1.5M260.9 255.3h1.5M260.9 268.0h1.5M261.0 275.4h1.5M261.2 269.5h1.5M261.5 277.3h1.5M261.6 276.9h1.5M261.8 270.5h1.5M261.8 282.6h1.5M262.1 271.2h1.5M262.5 285.1h1.5M262.5 279.4h1.5M262.7 279.5h1.5M263.0 261.9h1.5M263.2 286.7h1.5" stroke="#404040" stroke-width="1.5" fill="none"/>
<path d="M53.2 266.6h1.3M55.1 237.5h1.3M56.1 253.2h1.3M57.1 251.7h1.3M57.2 252.5h1.3M58.5 247.6h1.3M58.7 249.6h1.3M58.7 247.2h1.3M60.3 226.3h1.3M60.8 248.9h1.3M61.2 244.9h1.3M61.6 244.9h1.3M63.0 243.9h1.3M63.2 225.9h1.3M65.7 226.4h1.3M66.2 224.3h1.3M66.7 244.5h1.3M68.4 243.0h1.3M69.8 244.2h1.3M71.1 225.0h1.3M72.0 224.6h1.3M75.2 242.6h1.3M75.7 241.5h1.3M75.7 240.9h1.3M79.7 243.6h1.3M80.0 242.6h1.3M80.8 240.5h1.3M81.8 240.7h1.3M81.9 220.7h1.3M83.4 242.6h1.3M85.0 219.2h1.3M86.3 241.7h1.3M86.3 243.5h1.3M86.5 219.2h1.3M86.9 220.0h1.3M86.9 241.6h1.3M88.0 218.1h1.3M88.0 243.3h1.3M88.7 218.8h1.3M89.6 220.8h1.3M90.6 221.3h1.3M91.2 243.8h1.3M92.5 245.2h1.3M92.5 242.3h1.3M96.1 243.6h1.3M96.2 243.1h1.3M96.9 243.3h1.3M97.8 224.2h1.3M98.5 223.7h1.3M98.9 243.4h1.3M99.9 244.3h1.3M100.9 245.9h1.3M102.5 223.5h1.3M103.8 245.4h1.3M105.2 244.2h1.3M105.8 244.7h1.3M106.2 225.5h1.3M107.0 225.4h1.3M107.2 247.0h1.3M108.7 245.9h1.3M109.3 244.9h1.3M110.3 247.0h1.3M110.6 244.3h1.3M114.3 245.9h1.3M115.0 223.7h1.3M116.6 224.4h1.3M117.2 246.7h1.3M117.4 248.4h1.3M118.1 224.8h1.3M119.0 246.4h1.3M121.3 247.5h1.3M122.4 223.8h1.3M122.6 246.9h1.3M122.9 245.3h1.3M123.0 248.8h1.3M123.2 245.6h1.3M123.4 248.4h1.3M124.1 222.8h1.3M125.4 221.6h1.3M126.3 246.3h1.3M127.6 249.4h1.3M127.7 220.7h1.3M127.9 246.1h1.3M128.4 220.4h1.3M128.9 221.1h1.3M129.5 220.9h1.3M130.2 221.0h1.3M130.5 247.5h1.3M130.7 221.2h1.3M131.2 249.5h1.3M131.6 220.3h1.3M133.0 248.8h1.3M135.0 249.7h1.3M135.2 249.1h1.3M136.1 249.2h1.3M136.1 252.3h1.3M136.2 218.5h1.3M136.2 218.6h1.3M136.5 249.0h1.3M137.4 219.7h1.3M137.5 248.6h1.3M138.1 251.9h1.3M138.9 253.6h1.3M139.5 249.1h1.3M139.6 253.4h1.3M140.0 219.8h1.3M140.1 251.8h1.3M140.5 252.8h1.3M141.4 251.0h1.3M141.8 252.6h1.3M142.8 252.0h1.3M144.6 253.8h1.3M147.1 258.1h1.3M148.4 228.4h1.3M149.0 235.0h1.3M149.2 235.1h1.3M150.0 239.8h1.3M150.2 259.4h1.3M150.8 263.4h1.3M151.0 260.6h1.3M151.5 259.8h1.3M152.1 263.8h1.3M152.3 259.6h1.3M152.5 265.4h1.3M153.2 262.0h1.3M153.5 259.8h1.3M154.1 241.0h1.3M154.2 266.7h1.3M155.0 261.7h1.3M155.5 260.2h1.3M155.8 261.8h1.3M155.9 260.2h1.3M156.7 265.9h1.3M156.8 260.6h1.3M156.8 241.5h1.3M157.2 264.4h1.3M158.9 240.2h1.3M159.1 241.8h1.3M159.8 264.2h1.3M159.9 266.0h1.3M160.0 240.1h1.3M160.8 264.7h1.3M161.9 263.5h1.3M162.3 263.0h1.3M162.6 266.5h1.3M162.7 261.5h1.3M162.8 239.8h1.3M162.9 241.0h1.3M163.0 261.9h1.3M164.2 266.1h1.3M164.8 262.0h1.3M164.9 264.6h1.3M165.2 268.8h1.3M165.4 262.4h1.3M166.5 263.1h1.3M167.3 266.5h1.3M167.8 263.4h1.3M168.2 266.1h1.3M168.4 267.3h1.3M168.5 239.0h1.3M169.3 237.9h1.3M169.4 237.5h1.3M170.3 265.0h1.3M170.6 265.6h1.3M170.9 268.7h1.3M171.0 266.1h1.3M171.4 264.0h1.3M171.5 265.9h1.3M171.8 267.6h1.3M171.9 266.5h1.3M172.3 267.1h1.3M173.5 271.6h1.3M173.8 271.6h1.3M174.1 271.2h1.3M174.3 236.4h1.3M174.3 266.7h1.3M174.3 266.1h1.3M175.0 270.8h1.3M176.5 270.1h1.3M176.7 273.9h1.3M177.4 266.2h1.3M177.4 266.3h1.3M177.5 265.7h1.3M177.7 269.0h1.3M177.8 265.7h1.3M178.1 236.1h1.3M178.3 266.1h1.3M178.7 266.3h1.3M179.0 271.3h1.3M179.4 268.9h1.3M179.9 267.4h1.3M180.6 275.1h1.3M181.0 270.0h1.3M181.4 276.1h1.3M181.4 272.5h1.3M181.4 273.5h1.3M181.9 279.1h1.3M182.4 270.6h1.3M182.5 270.7h1.3M182.6 275.1h1.3M182.9 268.3h1.3M182.9 273.8h1.3M183.0 270.0h1.3M183.9 247.3h1.3M183.9 269.6h1.3M184.2 268.7h1.3M184.3 271.0h1.3M185.0 249.1h1.3M185.0 277.6h1.3M185.4 269.6h1.3M186.0 249.1h1.3M186.2 271.3h1.3M186.3 271.4h1.3M186.3 270.7h1.3M186.8 274.6h1.3M187.1 273.9h1.3M187.5 269.3h1.3M187.9 278.7h1.3M188.3 279.0h1.3M188.6 268.9h1.3M188.7 273.2h1.3M188.9 277.6h1.3M189.0 268.6h1.3M189.1 279.1h1.3M189.3 249.4h1.3M189.4 267.2h1.3M189.9 268.7h1.3M190.3 266.0h1.3M190.3 266.1h1.3M190.5 269.9h1.3M190.8 248.0h1.3M191.1 266.5h1.3M191.4 266.8h1.3M191.8 247.3h1.3M192.3 246.8h1.3M193.3 270.5h1.3M193.4 263.7h1.3M193.6 268.0h1.3M193.6 263.4h1.3M194.0 272.7h1.3M194.1 267.3h1.3M194.2 246.4h1.3M194.6 246.1h1.3M195.3 270.2h1.3M195.7 268.0h1.3M195.9 263.0h1.3M196.1 247.5h1.3M196.7 272.8h1.3M197.4 263.0h1.3M197.4 263.0h1.3M197.5 247.8h1.3M198.2 246.4h1.3M199.0 268.6h1.3M199.7 270.7h1.3M199.9 263.1h1.3M200.2 263.3h1.3M200.2 266.6h1.3M200.3 246.8h1.3M200.7 269.8h1.3M201.2 264.0h1.3M201.3 246.9h1.3M201.5 266.1h1.3M201.6 265.8h1.3M201.9 264.0h1.3M201.9 263.1h1.3M202.2 268.1h1.3M202.4 266.0h1.3M202.6 268.8h1.3M202.7 269.5h1.3M202.8 263.0h1.3M202.8 247.3h1.3M203.3 273.9h1.3M204.0 266.7h1.3M204.3 270.3h1.3M204.3 271.5h1.3M204.4 272.9h1.3M204.9 266.1h1.3M204.9 246.2h1.3M205.0 274.1h1.3M205.0 271.2h1.3M205.1 246.2h1.3M205.5 275.2h1.3M206.0 271.8h1.3M206.1 265.3h1.3M206.2 275.6h1.3M206.3 263.1h1.3M206.6 269.9h1.3M206.6 271.9h1.3M206.7 275.8h1.3M207.1 246.3h1.3M207.3 271.0h1.3M207.9 270.9h1.3M208.1 267.2h1.3M208.2 267.9h1.3M208.3 245.4h1.3M208.8 269.6h1.3M209.0 264.0h1.3M209.1 268.3h1.3M209.1 274.5h1.3M209.1 265.2h1.3M209.3 245.0h1.3M209.5 271.2h1.3M209.7 263.6h1.3M210.6 265.5h1.3M210.6 264.3h1.3M211.0 268.8h1.3M211.1 274.1h1.3M211.1 273.2h1.3M212.1 271.6h1.3M212.3 241.6h1.3M212.3 277.0h1.3M212.4 274.2h1.3M212.5 268.0h1.3M212.7 270.5h1.3M213.0 264.0h1.3M213.5 269.6h1.3M214.3 263.8h1.3M214.6 268.5h1.3M214.8 268.7h1.3M215.2 241.8h1.3M215.2 266.2h1.3M216.1 276.1h1.3M216.1 265.7h1.3M216.7 268.7h1.3M216.8 273.1h1.3M217.3 238.7h1.3M217.4 240.4h1.3M217.5 268.2h1.3M217.6 266.3h1.3M218.0 263.8h1.3M218.1 272.6h1.3M218.4 271.7h1.3M218.4 239.9h1.3M218.6 267.8h1.3M218.9 263.2h1.3M219.1 262.8h1.3M219.9 263.2h1.3M220.3 262.5h1.3M220.4 273.1h1.3M222.4 263.5h1.3M222.9 263.7h1.3M223.3 262.0h1.3M223.4 233.1h1.3M223.7 264.8h1.3M223.7 262.4h1.3M223.9 266.6h1.3M223.9 233.4h1.3M224.0 266.4h1.3M224.1 263.8h1.3M224.1 274.0h1.3M224.2 266.8h1.3M224.3 262.1h1.3M224.3 236.2h1.3M224.3 267.3h1.3M224.3 264.2h1.3M224.6 263.1h1.3M225.5 267.5h1.3M225.8 272.7h1.3M225.8 233.7h1.3M226.7 264.3h1.3M226.7 234.9h1.3M227.4 262.5h1.3M227.5 263.2h1.3M227.6 266.4h1.3M228.0 271.9h1.3M228.1 267.3h1.3M228.3 263.4h1.3M228.5 270.7h1.3M229.0 273.7h1.3M229.6 268.0h1.3M229.7 268.0h1.3M229.7 262.7h1.3M230.1 268.9h1.3M230.3 270.1h1.3M230.8 265.0h1.3M231.1 264.7h1.3M231.3 264.4h1.3M231.4 264.1h1.3M231.6 266.9h1.3M231.7 264.6h1.3M231.9 264.7h1.3M232.1 265.0h1.3M233.0 238.1h1.3M233.0 242.7h1.3M233.9 271.0h1.3M234.5 267.2h1.3M234.9 263.2h1.3M235.0 269.6h1.3M235.3 265.5h1.3M235.4 263.1h1.3M235.5 270.8h1.3M235.8 264.2h1.3M235.8 262.7h1.3M236.0 263.4h1.3M236.2 263.1h1.3M236.3 236.0h1.3M236.5 265.2h1.3M236.6 262.5h1.3M236.7 263.1h1.3M236.9 273.2h1.3M238.2 275.1h1.3M238.6 263.6h1.3M238.8 262.9h1.3M239.5 240.0h1.3M240.1 267.6h1.3M240.2 265.0h1.3M240.4 263.8h1.3M240.9 264.4h1.3M241.0 273.9h1.3M241.0 270.0h1.3M241.3 263.1h1.3M241.5 275.8h1.3M242.4 240.9h1.3M242.6 270.8h1.3M242.7 267.9h1.3M243.7 271.6h1.3M243.8 267.0h1.3M243.9 268.9h1.3M244.2 239.5h1.3M244.2 266.4h1.3M244.2 240.6h1.3M244.3 238.3h1.3M244.5 262.6h1.3M245.2 239.6h1.3M245.2 266.0h1.3M245.3 262.4h1.3M245.4 263.6h1.3M245.7 262.6h1.3M245.8 264.9h1.3M246.1 269.5h1.3M246.3 269.5h1.3M246.3 268.6h1.3M246.8 265.8h1.3M247.3 238.8h1.3M247.6 238.8h1.3M248.4 273.6h1.3M248.4 269.8h1.3M248.5 238.9h1.3M248.7 273.4h1.3M248.8 265.9h1.3M249.2 262.6h1.3M249.6 262.8h1.3M249.8 265.5h1.3M251.0 269.5h1.3M251.3 264.4h1.3M252.5 263.4h1.3M253.0 269.0h1.3M253.3 270.2h1.3M253.3 262.3h1.3M253.5 264.0h1.3M254.4 263.6h1.3M254.6 268.3h1.3M255.0 263.1h1.3M256.7 267.3h1.3M256.7 232.5h1.3M257.3 270.0h1.3M257.3 264.9h1.3M258.1 278.3h1.3M258.3 270.4h1.3M258.8 273.5h1.3M259.1 241.5h1.3M259.4 277.4h1.3M259.5 270.4h1.3M259.7 266.6h1.3M259.7 277.5h1.3M260.2 276.4h1.3M260.5 273.0h1.3M260.5 275.9h1.3M260.6 273.1h1.3M261.0 279.4h1.3M261.5 280.9h1.3M261.6 282.2h1.3M262.3 289.3h1.3M263.7 289.2h1.3" stroke="#555" stroke-width="1.3" fill="none"/>
<path d="M55.5 254.9h1.5M55.8 249.3h1.5M56.2 241.0h1.5M57.1 241.8h1.5M57.7 237.9h1.5M59.6 239.6h1.5M63.5 235.7h1.5M72.1 227.0h1.5M72.5 229.4h1.5M73.4 232.9h1.5M75.7 225.9h1.5M76.8 228.0h1.5M85.5 239.1h1.5M86.8 219.5h1.5M88.9 233.1h1.5M89.8 231.8h1.5M94.0 225.8h1.5M97.8 241.3h1.5M98.1 224.9h1.5M101.0 243.4h1.5M102.2 241.1h1.5M102.9 227.0h1.5M105.1 229.4h1.5M106.2 236.2h1.5M106.2 228.0h1.5M107.7 233.8h1.5M109.6 244.1h1.5M110.0 233.0h1.5M112.2 236.8h1.5M112.3 226.6h1.5M113.5 237.8h1.5M116.8 225.4h1.5M118.0 234.4h1.5M119.2 227.7h1.5M119.3 242.2h1.5M119.6 231.5h1.5M125.6 243.2h1.5M127.4 245.0h1.5M129.7 244.2h1.5M130.6 225.1h1.5M133.1 245.4h1.5M133.6 227.8h1.5M135.6 238.5h1.5M137.0 220.5h1.5M137.7 246.3h1.5M138.6 246.0h1.5M142.1 221.7h1.5M142.6 246.9h1.5M143.7 245.3h1.5M145.0 235.2h1.5M150.6 249.0h1.5M155.6 256.9h1.5M157.5 246.9h1.5M158.5 242.8h1.5M162.5 251.2h1.5M164.4 247.7h1.5M165.1 259.4h1.5M165.1 258.9h1.5M165.5 252.1h1.5M166.7 256.9h1.5M171.0 250.7h1.5M171.9 262.7h1.5M174.3 251.7h1.5M174.6 246.1h1.5M175.9 258.8h1.5M176.0 261.3h1.5M176.6 255.4h1.5M179.7 248.7h1.5M180.8 253.2h1.5M183.3 258.3h1.5M184.8 263.6h1.5M186.8 257.1h1.5M187.4 265.7h1.5M188.6 259.2h1.5M192.8 261.0h1.5M193.1 253.3h1.5M193.9 257.1h1.5M194.6 257.2h1.5M196.3 252.2h1.5M197.7 257.1h1.5M199.5 253.9h1.5M204.7 261.6h1.5M205.1 251.7h1.5M206.4 259.5h1.5M207.0 247.8h1.5M207.7 257.6h1.5M211.6 253.0h1.5M212.2 256.1h1.5M214.7 255.6h1.5M216.5 246.1h1.5M216.7 255.4h1.5M218.9 260.0h1.5M220.4 242.2h1.5M222.9 256.4h1.5M223.7 247.0h1.5M224.4 248.9h1.5M225.5 245.0h1.5M227.2 249.3h1.5M230.0 253.6h1.5M231.1 250.4h1.5M234.5 261.4h1.5M234.6 239.4h1.5M234.7 250.3h1.5M235.7 253.9h1.5M236.1 239.5h1.5M238.9 253.1h1.5M239.1 253.1h1.5M239.8 252.2h1.5M242.7 251.5h1.5M243.0 241.0h1.5M245.8 243.9h1.5M249.7 260.3h1.5M250.0 254.3h1.5M250.8 253.9h1.5M252.5 241.6h1.5M252.8 246.8h1.5M254.7 240.8h1.5M254.9 248.9h1.5M257.6 256.6h1.5M262.5 282.8h1.5M262.5 283.7h1.5M262.8 283.4h1.5" stroke="#d7d7d7" stroke-width="1.5" fill="none"/>
<path d="M165.5 285.1h1.2M165.5 281.1h1.2M165.8 279.4h1.2M166.0 273.5h1.2M166.1 286.9h1.2M166.3 285.7h1.2M187.3 278.7h1.2M187.5 272.8h1.2M187.8 271.4h1.2M188.5 279.2h1.2M189.0 281.9h1.2M189.2 279.9h1.2M203.7 283.1h1.2M203.9 280.2h1.2M205.2 275.8h1.2M215.5 293.7h1.2M215.8 275.8h1.2M215.9 270.4h1.2M216.0 298.2h1.2M216.0 272.6h1.2M216.0 268.5h1.2M216.3 284.6h1.2M216.4 299.2h1.2M216.5 285.2h1.2M216.7 280.4h1.2M234.4 280.6h1.2M234.9 268.4h1.2M235.2 269.0h1.2M261.3 292.9h1.2M261.5 285.1h1.2M262.1 287.9h1.2M262.3 288.7h1.2M262.6 291.4h1.2" stroke="#444" stroke-width="1.2" fill="none"/>
<path d="M49.5 284.7 L52.3 284.7 L54.5 259.9 L57.1 241.1" stroke="#0d0d0d" stroke-width="1.15" fill="none" stroke-linejoin="round"/>
<path d="M57.1 241.1 L60.4 236.0 L61.3 235.4 L62.5 234.9 L63.6 234.2 L64.8 234.9 L66.1 232.8 L67.5 232.5 L68.7 231.9 L69.7 234.4 L70.6 232.3 L71.5 230.3 L72.7 231.3 L73.7 230.7 L74.8 230.7 L75.8 230.4 L76.7 230.5 L77.9 230.6 L79.0 231.8 L80.1 230.3 L81.2 231.3 L82.1 230.5 L83.1 231.0 L84.3 231.2 L85.2 230.9 L86.5 231.5 L87.6 232.1 L88.5 230.9 L89.6 231.6 L90.8 232.3 L91.9 232.8 L92.9 232.4 L94.1 233.1 L95.0 233.2 L96.2 234.0 L97.0 233.0 L98.1 233.8 L99.3 234.0 L100.2 233.8 L101.2 234.4 L102.5 235.3 L103.2 235.9 L104.4 236.8 L105.4 236.6 L106.6 236.7 L107.6 235.3 L108.7 236.4 L109.8 234.7 L110.8 235.6 L111.8 234.6 L113.3 236.3 L114.5 236.2 L115.7 235.9 L116.8 236.9 L117.7 236.2 L118.7 236.9 L119.9 237.8 L120.9 237.8 L121.8 238.7 L123.1 237.9 L123.9 239.0 L124.9 239.0 L126.1 238.5 L127.2 239.0 L128.2 239.2 L129.4 238.6 L130.2 239.0 L131.3 240.4 L132.3 240.7 L133.4 241.2 L134.4 240.6 L135.3 240.2 L136.5 241.1 L137.6 242.7 L138.4 243.6 L139.5 243.4 L140.7 245.1 L141.6 245.0 L142.7 245.8 L143.5 247.2 L144.7 247.1 L145.9 249.3 L146.8 248.9 L148.1 248.3 L149.0 250.2 L150.4 252.3 L151.5 253.0 L152.7 254.8 L154.1 255.0 L155.2 254.6 L156.7 254.3 L157.8 254.6 L159.3 253.6 L160.5 253.0 L161.8 252.3 L162.9 252.7 L164.4 252.4 L165.5 251.4 L166.8 251.7 L168.3 251.7 L169.5 252.1 L170.9 251.6 L172.2 252.4 L173.6 253.5 L174.7 252.9 L176.1 254.3 L177.4 256.0 L178.8 257.3 L180.0 256.9 L181.3 256.9 L182.6 258.0 L183.9 259.0 L185.4 259.4 L186.5 258.4 L187.8 258.1 L189.2 257.6 L190.3 256.9 L191.7 255.2 L193.6 253.2 L194.8 253.3 L196.3 254.1 L197.5 254.2 L198.9 254.6 L200.1 255.3 L201.4 255.2 L202.8 255.2 L204.1 254.9 L205.3 254.2 L206.5 253.1 L207.9 252.7 L209.2 252.2 L210.6 251.7 L211.7 252.2 L212.9 251.6 L214.0 251.3 L215.3 251.1 L216.8 250.2 L217.9 249.3 L218.9 248.7 L219.8 248.4 L220.9 246.4 L222.2 246.3 L223.8 247.4 L224.8 248.3 L226.2 250.1 L227.3 251.7 L228.2 250.3 L229.4 249.7 L230.3 248.7 L231.4 248.0 L232.3 248.4 L233.5 248.5 L234.6 247.7 L235.4 249.5 L236.6 250.1 L237.5 251.3 L238.8 250.8 L239.8 250.4 L240.9 250.6 L241.7 250.8 L242.8 251.1 L243.7 251.0 L244.9 250.8 L246.1 251.9 L247.0 250.1 L248.1 249.0 L249.2 248.0 L250.0 248.6 L251.1 247.0 L252.2 249.0 L253.2 247.7 L254.2 249.0 L255.2 248.8 L256.1 251.9 L257.3 252.2 L258.2 253.7 L259.4 256.3 L261.5 264.6 L262.5 274.0 L263.2 282.2" stroke="#0d0d0d" stroke-width="1.85" fill="none" stroke-linejoin="round"/>
<path d="M39.18 207.4H273.5V353.45H39.18Z" fill="none" stroke="#6a6a6a" stroke-width="1.3"/>
<path d="M76.2 353.4v2.4M115.25 353.4v2.4M154.3 353.4v2.4M193.35 353.4v2.4M232.4 353.4v2.4M271.45 353.4v2.4M39 352.98h-2.4M39 323.94h-2.4M39 294.9h-2.4M39 265.86h-2.4M39 236.82h-2.4M39 207.78h-2.4" stroke="#222" stroke-width="0.85" fill="none"/>
<text x="76.2" y="363.45" text-anchor="middle" class="t">5,000</text>
<text x="115.25" y="363.45" text-anchor="middle" class="t">10,000</text>
<text x="154.3" y="363.45" text-anchor="middle" class="t">15,000</text>
<text x="193.35" y="363.45" text-anchor="middle" class="t">20,000</text>
<text x="232.4" y="363.45" text-anchor="middle" class="t">25,000</text>
<text x="271.45" y="363.45" text-anchor="middle" class="t">30,000</text>
<text x="34.6" y="356.48" text-anchor="end" class="t">0.0</text>
<text x="34.6" y="327.44" text-anchor="end" class="t">0.2</text>
<text x="34.6" y="298.4" text-anchor="end" class="t">0.4</text>
<text x="34.6" y="269.36" text-anchor="end" class="t">0.6</text>
<text x="34.6" y="240.32" text-anchor="end" class="t">0.8</text>
<text x="34.6" y="211.28" text-anchor="end" class="t">1.0</text>
<text x="156.2" y="204" text-anchor="middle" class="ti">LRF</text>
<text x="145" y="377.4" class="m">P</text>
<text x="151.1" y="373.8" class="ms">te</text>
<text x="150.8" y="380.3" class="ms">start</text>
<g transform="translate(16.3,287.85) rotate(-90)"><text x="0" y="0" class="m">R</text><text x="2.2" y="-3" class="m" style="font-style:normal;font-size:7.5px;stroke-width:0.1px">&#x2DC;</text><text x="6.1" y="1.3" class="ms">te</text></g>
<path d="M310.5 207.3V353.4M361.98 207.3V353.4M413.46 207.3V353.4M464.94 207.3V353.4M516.42 207.3V353.4M308.5 323.94H543.3M308.5 294.9H543.3M308.5 265.86H543.3M308.5 236.82H543.3" stroke="#c4c4c4" stroke-width="0.75" fill="none"/>
<path d="M321 252.0h1V256.0h-1zM322 244.5h1V250.5h-1zM323 237.0h1V245.0h-1zM324 227.0h1V228.1h-1zM324 228.1h1V241.7h-1zM325 221.4h1V234.2h-1zM325 234.2h1V240.0h-1zM326 220.2h1V238.5h-1zM326 238.5h1V240.0h-1zM327 219.0h1V227.1h-1zM327 227.1h1V240.0h-1zM328 218.8h1V226.3h-1zM328 226.3h1V240.4h-1zM329 218.6h1V236.0h-1zM329 236.0h1V240.8h-1zM330 218.4h1V229.3h-1zM330 229.3h1V241.2h-1zM331 218.2h1V229.0h-1zM331 229.0h1V241.6h-1zM332 218.0h1V235.0h-1zM332 235.0h1V242.0h-1zM333 218.2h1V235.5h-1zM334 218.4h1V230.5h-1zM335 218.6h1V230.0h-1zM336 218.8h1V234.0h-1z" fill="rgb(255,255,255)" shape-rendering="crispEdges"/>
<path d="M333 235.5h1V242.5h-1zM334 230.5h1V243.0h-1zM337 218.9h1V234.2h-1zM338 219.1h1V230.8h-1zM339 219.3h1V231.0h-1z" fill="rgb(252,252,252)" shape-rendering="crispEdges"/>
<path d="M335 230.0h1V243.5h-1zM336 234.0h1V244.0h-1zM340 219.5h1V235.0h-1zM341 219.8h1V235.8h-1z" fill="rgb(246,246,246)" shape-rendering="crispEdges"/>
<path d="M337 234.2h1V244.5h-1zM338 230.8h1V245.0h-1zM342 220.1h1V233.2h-1zM343 220.4h1V233.1h-1z" fill="rgb(240,240,240)" shape-rendering="crispEdges"/>
<path d="M339 231.0h1V245.5h-1zM344 220.7h1V235.3h-1z" fill="rgb(234,234,234)" shape-rendering="crispEdges"/>
<path d="M340 235.0h1V246.0h-1zM341 235.8h1V246.2h-1zM345 221.0h1V236.4h-1zM346 221.3h1V236.4h-1z" fill="rgb(228,228,228)" shape-rendering="crispEdges"/>
<path d="M342 233.2h1V246.4h-1zM343 233.1h1V246.6h-1zM347 221.6h1V236.4h-1zM348 221.9h1V236.4h-1z" fill="rgb(222,222,222)" shape-rendering="crispEdges"/>
<path d="M344 235.3h1V246.8h-1zM349 222.2h1V236.4h-1z" fill="rgb(216,216,216)" shape-rendering="crispEdges"/>
<path d="M345 236.4h1V247.0h-1zM346 236.4h1V247.2h-1zM350 222.5h1V236.5h-1zM351 222.8h1V236.6h-1z" fill="rgb(210,210,210)" shape-rendering="crispEdges"/>
<path d="M347 236.4h1V247.4h-1zM348 236.4h1V247.6h-1zM352 223.1h1V236.7h-1z" fill="rgb(204,204,204)" shape-rendering="crispEdges"/>
<path d="M349 236.4h1V247.8h-1zM353 223.4h1V236.8h-1z" fill="rgb(198,198,198)" shape-rendering="crispEdges"/>
<path d="M350 236.5h1V248.0h-1zM351 236.6h1V248.1h-1zM354 223.8h1V236.9h-1zM355 224.1h1V237.0h-1z" fill="rgb(192,192,192)" shape-rendering="crispEdges"/>
<path d="M352 236.7h1V248.2h-1zM353 236.8h1V248.4h-1zM356 224.4h1V237.0h-1z" fill="rgb(186,186,186)" shape-rendering="crispEdges"/>
<path d="M354 236.9h1V248.5h-1zM355 237.0h1V248.6h-1zM357 224.7h1V237.0h-1z" fill="rgb(180,180,180)" shape-rendering="crispEdges"/>
<path d="M356 237.0h1V248.8h-1zM358 225.0h1V237.0h-1z" fill="rgb(174,174,174)" shape-rendering="crispEdges"/>
<path d="M357 237.0h1V248.9h-1zM358 237.0h1V249.0h-1z" fill="rgb(168,168,168)" shape-rendering="crispEdges"/>
<path d="M359 226.2h1V237.0h-1zM359 237.0h1V248.2h-1z" fill="rgb(162,162,162)" shape-rendering="crispEdges"/>
<path d="M360 227.5h1V237.0h-1zM362 237.0h1V246.0h-1zM363 236.9h1V246.0h-1zM364 236.8h1V246.0h-1zM365 236.7h1V246.0h-1zM366 236.7h1V246.0h-1zM367 236.6h1V246.0h-1zM368 236.5h1V246.0h-1zM465 243.2h1V259.0h-1zM467 243.2h1V258.7h-1z" fill="rgb(144,144,144)" shape-rendering="crispEdges"/>
<path d="M360 237.0h1V247.5h-1zM466 243.2h1V262.0h-1z" fill="rgb(156,156,156)" shape-rendering="crispEdges"/>
<path d="M361 228.8h1V237.0h-1zM392 235.4h1V246.6h-1zM393 235.3h1V246.7h-1zM394 235.2h1V246.7h-1zM395 235.0h1V246.8h-1zM467 235.0h1V243.2h-1z" fill="rgb(132,132,132)" shape-rendering="crispEdges"/>
<path d="M361 237.0h1V246.8h-1z" fill="rgb(150,150,150)" shape-rendering="crispEdges"/>
<path d="M362 230.0h1V237.0h-1zM363 229.9h1V236.9h-1zM405 234.5h1V247.3h-1zM406 234.8h1V247.4h-1zM407 235.1h1V247.4h-1zM408 235.3h1V247.5h-1zM409 235.6h1V247.6h-1zM410 236.0h1V247.8h-1zM411 236.7h1V247.9h-1zM412 237.3h1V248.0h-1zM413 228.0h1V238.0h-1zM463 243.2h1V253.0h-1zM518 245.8h1V255.0h-1zM519 248.2h1V256.0h-1zM520 250.1h1V257.0h-1zM521 250.4h1V258.0h-1zM522 249.2h1V259.0h-1zM523 247.1h1V260.0h-1zM524 244.1h1V261.0h-1zM525 241.7h1V262.0h-1zM526 241.7h1V262.0h-1zM527 243.6h1V262.0h-1zM529 229.7h1V251.4h-1zM530 229.0h1V257.9h-1zM531 229.0h1V292.0h-1z" fill="rgb(114,114,114)" shape-rendering="crispEdges"/>
<path d="M364 229.9h1V236.8h-1zM365 229.8h1V236.7h-1zM366 229.8h1V236.7h-1zM367 229.7h1V236.6h-1zM469 238.6h1V252.0h-1zM470 236.9h1V251.6h-1zM471 236.7h1V251.2h-1zM472 236.5h1V250.8h-1zM473 236.3h1V250.3h-1zM474 236.0h1V249.9h-1zM513 238.4h1V250.2h-1zM514 238.6h1V250.5h-1zM515 238.9h1V250.8h-1zM516 240.4h1V251.0h-1zM517 243.1h1V253.0h-1zM528 246.9h1V264.0h-1z" fill="rgb(108,108,108)" shape-rendering="crispEdges"/>
<path d="M368 229.6h1V236.5h-1zM369 229.6h1V236.4h-1zM370 229.5h1V236.4h-1zM371 229.4h1V236.4h-1zM372 229.4h1V236.4h-1zM373 229.3h1V236.4h-1zM374 229.3h1V236.4h-1zM375 229.2h1V236.4h-1zM413 238.0h1V249.0h-1zM475 235.8h1V249.5h-1zM476 235.6h1V249.5h-1zM477 235.4h1V249.5h-1zM478 235.5h1V249.5h-1zM479 235.9h1V249.5h-1zM480 236.3h1V249.5h-1zM481 236.7h1V249.5h-1zM482 237.0h1V249.5h-1zM483 237.4h1V249.5h-1zM484 237.8h1V249.5h-1zM485 238.1h1V249.5h-1zM486 238.3h1V249.5h-1zM487 238.5h1V249.5h-1zM488 238.7h1V249.5h-1zM489 238.9h1V249.5h-1zM490 238.9h1V249.5h-1zM491 238.8h1V249.5h-1zM492 238.8h1V249.5h-1zM493 238.7h1V249.5h-1zM494 238.6h1V249.5h-1zM495 238.4h1V249.5h-1zM496 238.3h1V249.5h-1zM497 238.2h1V249.5h-1zM498 238.2h1V249.5h-1zM499 238.1h1V249.5h-1zM500 237.9h1V249.5h-1zM501 237.7h1V249.5h-1zM502 237.5h1V249.5h-1zM503 237.3h1V249.5h-1zM504 237.1h1V249.5h-1zM505 236.9h1V249.5h-1zM506 236.7h1V249.5h-1zM507 236.4h1V249.5h-1zM508 236.2h1V249.6h-1zM509 236.0h1V249.7h-1zM510 236.4h1V249.8h-1zM511 237.5h1V249.9h-1zM512 238.1h1V250.0h-1zM529 251.4h1V266.0h-1z" fill="rgb(102,102,102)" shape-rendering="crispEdges"/>
<path d="M369 236.4h1V246.0h-1zM370 236.4h1V246.0h-1zM371 236.4h1V246.0h-1zM372 236.4h1V246.0h-1zM373 236.4h1V246.0h-1zM374 236.4h1V246.0h-1zM375 236.4h1V246.0h-1zM376 236.4h1V246.0h-1zM377 236.4h1V246.0h-1zM378 236.4h1V246.0h-1zM379 236.4h1V246.0h-1zM380 236.4h1V246.0h-1zM381 236.3h1V246.1h-1zM382 236.2h1V246.1h-1zM383 236.2h1V246.2h-1zM384 236.1h1V246.2h-1zM385 236.0h1V246.2h-1zM386 235.9h1V246.3h-1zM387 235.9h1V246.3h-1zM388 235.8h1V246.4h-1zM389 235.7h1V246.4h-1zM390 235.6h1V246.5h-1zM391 235.5h1V246.6h-1zM415 234.0h1V238.6h-1zM416 234.0h1V238.8h-1zM417 234.0h1V239.1h-1zM418 234.1h1V239.3h-1zM419 234.1h1V239.5h-1zM420 234.1h1V239.6h-1zM421 234.1h1V239.7h-1zM422 234.1h1V239.8h-1zM423 234.2h1V239.8h-1zM424 234.2h1V239.9h-1zM425 234.2h1V240.0h-1zM426 234.2h1V240.1h-1zM427 234.2h1V240.1h-1zM428 234.3h1V240.2h-1zM429 234.3h1V240.3h-1zM430 234.3h1V240.3h-1zM431 234.3h1V240.4h-1zM432 234.3h1V240.5h-1zM433 234.4h1V240.5h-1zM434 234.4h1V240.6h-1zM435 234.4h1V240.6h-1zM436 234.4h1V240.7h-1zM437 234.4h1V240.8h-1zM438 234.5h1V240.8h-1zM439 234.5h1V240.9h-1zM440 234.5h1V241.0h-1zM441 235.0h1V241.3h-1zM442 235.5h1V241.6h-1zM443 236.0h1V241.8h-1zM444 236.5h1V242.1h-1zM445 237.0h1V242.3h-1zM446 237.1h1V242.4h-1zM447 237.1h1V242.5h-1zM448 237.2h1V242.6h-1zM449 237.2h1V242.7h-1zM450 237.3h1V242.9h-1zM451 237.4h1V243.0h-1zM452 237.4h1V243.2h-1zM453 237.5h1V243.3h-1zM454 237.5h1V243.4h-1zM455 237.6h1V243.5h-1zM456 237.6h1V243.4h-1zM457 237.7h1V243.3h-1zM458 237.8h1V243.3h-1zM459 237.8h1V243.2h-1zM460 237.9h1V243.2h-1zM461 237.9h1V243.2h-1zM462 238.0h1V243.2h-1zM463 237.8h1V243.2h-1zM464 237.5h1V243.2h-1zM465 237.2h1V243.2h-1zM466 237.0h1V243.2h-1z" fill="rgb(138,138,138)" shape-rendering="crispEdges"/>
<path d="M376 229.2h1V236.4h-1zM377 229.2h1V236.4h-1zM378 229.1h1V236.4h-1zM379 229.1h1V236.4h-1zM380 229.0h1V236.4h-1zM381 228.8h1V236.3h-1zM382 228.7h1V236.2h-1zM383 228.6h1V236.2h-1zM384 228.4h1V236.1h-1zM385 228.2h1V236.0h-1zM386 228.1h1V235.9h-1zM387 227.9h1V235.9h-1zM388 227.8h1V235.8h-1zM389 227.7h1V235.7h-1zM390 227.5h1V235.6h-1zM391 227.3h1V235.5h-1zM392 227.1h1V235.4h-1zM414 238.4h1V249.0h-1zM415 238.6h1V249.0h-1zM416 238.8h1V249.0h-1zM417 239.1h1V249.0h-1zM418 239.3h1V249.1h-1zM419 239.5h1V249.1h-1zM420 239.6h1V249.1h-1zM421 239.7h1V249.1h-1zM422 239.8h1V249.1h-1zM423 239.8h1V249.2h-1zM424 239.9h1V249.2h-1zM425 240.0h1V249.2h-1zM426 240.1h1V249.2h-1zM427 240.1h1V249.2h-1zM428 240.2h1V249.3h-1zM429 240.3h1V249.3h-1zM430 240.3h1V249.3h-1zM431 240.4h1V249.3h-1zM432 240.5h1V249.3h-1zM433 240.5h1V249.4h-1zM434 240.6h1V249.4h-1zM435 240.6h1V249.4h-1zM436 240.7h1V249.4h-1zM437 240.8h1V249.4h-1zM438 240.8h1V249.5h-1zM439 240.9h1V249.5h-1zM440 241.0h1V249.5h-1zM441 241.3h1V249.6h-1zM442 241.6h1V249.7h-1zM443 241.8h1V249.8h-1zM444 242.1h1V249.9h-1zM445 242.3h1V250.0h-1zM446 242.4h1V250.0h-1zM447 242.5h1V250.0h-1zM448 242.6h1V250.0h-1zM449 242.7h1V250.0h-1zM450 242.9h1V250.0h-1zM451 243.0h1V250.0h-1zM452 243.2h1V250.0h-1zM453 243.3h1V250.0h-1zM454 243.4h1V250.0h-1zM455 243.5h1V250.0h-1zM456 243.4h1V250.0h-1zM457 243.3h1V250.0h-1zM458 243.3h1V250.0h-1zM459 243.2h1V250.0h-1zM460 243.2h1V250.0h-1zM461 243.2h1V250.0h-1zM462 243.2h1V250.0h-1zM530 257.9h1V268.0h-1z" fill="rgb(96,96,96)" shape-rendering="crispEdges"/>
<path d="M393 226.9h1V235.3h-1zM394 226.7h1V235.2h-1zM395 226.5h1V235.0h-1zM396 226.3h1V234.9h-1z" fill="rgb(90,90,90)" shape-rendering="crispEdges"/>
<path d="M396 234.9h1V246.8h-1zM397 234.8h1V246.8h-1zM398 234.6h1V246.9h-1zM399 234.5h1V246.9h-1zM414 231.0h1V238.4h-1zM464 243.2h1V256.0h-1zM468 233.0h1V241.6h-1zM468 241.6h1V255.3h-1zM476 224.9h1V235.6h-1zM477 227.9h1V235.4h-1zM478 227.3h1V235.5h-1zM479 226.7h1V235.9h-1zM480 226.1h1V236.3h-1zM481 225.6h1V236.7h-1zM482 225.0h1V237.0h-1zM483 218.3h1V237.4h-1zM484 226.2h1V237.8h-1zM485 226.9h1V238.1h-1zM486 227.5h1V238.3h-1zM487 228.1h1V238.5h-1zM488 228.8h1V238.7h-1zM489 229.4h1V238.9h-1z" fill="rgb(126,126,126)" shape-rendering="crispEdges"/>
<path d="M397 226.1h1V234.8h-1zM398 225.9h1V234.6h-1zM399 225.7h1V234.5h-1zM400 225.5h1V234.4h-1zM401 225.4h1V234.4h-1zM402 225.2h1V234.4h-1zM403 225.1h1V234.4h-1z" fill="rgb(84,84,84)" shape-rendering="crispEdges"/>
<path d="M400 234.4h1V247.0h-1zM401 234.4h1V247.1h-1zM402 234.4h1V247.1h-1zM403 234.4h1V247.2h-1zM404 234.4h1V247.2h-1zM469 231.0h1V238.6h-1zM470 230.7h1V236.9h-1zM471 230.3h1V236.7h-1zM472 230.0h1V236.5h-1zM473 229.7h1V236.3h-1zM474 229.3h1V236.0h-1zM475 229.0h1V235.8h-1zM490 230.0h1V238.9h-1zM491 229.9h1V238.8h-1zM492 229.8h1V238.8h-1zM493 226.6h1V238.7h-1zM494 229.6h1V238.6h-1zM495 223.7h1V238.4h-1zM496 229.4h1V238.3h-1zM497 229.3h1V238.2h-1zM498 229.2h1V238.2h-1zM499 229.1h1V238.1h-1zM500 229.0h1V237.9h-1zM501 228.4h1V237.7h-1zM502 225.2h1V237.5h-1zM503 219.5h1V237.3h-1zM504 226.7h1V237.1h-1zM505 226.1h1V236.9h-1zM506 225.6h1V236.7h-1zM507 225.0h1V236.4h-1zM508 225.8h1V236.2h-1zM509 220.3h1V236.0h-1zM510 227.4h1V236.4h-1zM511 228.2h1V237.5h-1zM512 229.0h1V238.1h-1zM513 227.5h1V238.4h-1zM514 226.0h1V238.6h-1zM515 224.5h1V238.9h-1zM516 223.0h1V240.4h-1zM517 226.0h1V243.1h-1zM518 229.0h1V245.8h-1zM519 243.0h1V248.2h-1zM520 245.5h1V250.1h-1zM521 248.0h1V250.4h-1zM522 246.5h1V249.2h-1zM523 245.0h1V247.1h-1zM524 242.0h1V244.1h-1zM525 239.0h1V241.7h-1zM526 236.0h1V241.7h-1zM527 231.0h1V243.6h-1zM528 230.3h1V246.9h-1zM532 233.5h1V292.0h-1z" fill="rgb(120,120,120)" shape-rendering="crispEdges"/>
<path d="M404 225.0h1V234.4h-1zM405 224.9h1V234.5h-1zM406 224.8h1V234.8h-1zM407 224.6h1V235.1h-1zM408 224.5h1V235.3h-1zM409 224.8h1V235.6h-1zM410 225.0h1V236.0h-1zM411 225.2h1V236.7h-1zM412 225.5h1V237.3h-1z" fill="rgb(78,78,78)" shape-rendering="crispEdges"/>
<path d="M321.9 256.1h1.3M322.1 251.7h1.3M322.2 253.1h1.3M322.2 250.9h1.3M323.8 234.8h1.3M324.6 242.0h1.3M325.5 242.7h1.3M325.6 243.3h1.3M326.1 240.2h1.3M327.5 240.1h1.3M327.6 216.7h1.3M328.0 240.6h1.3M328.2 242.7h1.3M328.7 241.8h1.3M328.9 240.6h1.3M329.6 242.9h1.3M330.2 217.7h1.3M330.5 241.6h1.3M331.3 242.2h1.3M331.3 241.6h1.3M331.7 245.5h1.3M331.8 217.6h1.3M332.1 216.7h1.3M332.1 216.6h1.3M332.4 242.8h1.3M332.8 216.0h1.3M333.2 244.1h1.3M333.6 215.8h1.3M333.9 216.9h1.3M334.0 243.9h1.3M334.4 217.9h1.3M334.5 248.4h1.3M334.7 243.4h1.3M335.2 247.0h1.3M335.8 247.8h1.3M335.8 246.8h1.3M337.0 244.2h1.3M337.7 245.4h1.3M338.8 245.3h1.3M339.6 247.1h1.3M341.1 246.2h1.3M341.2 247.8h1.3M342.3 247.7h1.3M342.3 251.0h1.3M342.4 246.4h1.3M343.8 247.8h1.3M344.0 219.4h1.3M344.0 219.7h1.3M344.1 249.5h1.3M344.7 248.1h1.3M345.8 247.3h1.3M347.3 220.0h1.3M347.3 220.4h1.3M348.0 249.3h1.3M348.4 249.4h1.3M349.1 253.5h1.3M349.2 219.8h1.3M349.8 248.8h1.3M349.9 252.1h1.3M350.4 253.9h1.3M350.7 249.4h1.3M352.9 248.7h1.3M353.8 223.4h1.3M354.3 222.6h1.3M354.5 251.8h1.3M354.7 249.8h1.3M354.8 249.2h1.3M355.2 248.6h1.3M356.1 250.0h1.3M356.7 253.3h1.3M357.1 249.1h1.3M357.3 248.9h1.3M358.0 253.7h1.3M358.5 249.3h1.3M359.4 253.5h1.3M359.7 248.4h1.3M360.3 251.4h1.3M360.8 249.3h1.3M361.1 248.7h1.3M361.3 227.2h1.3M361.3 252.8h1.3M361.6 253.8h1.3M361.6 251.8h1.3M361.9 251.4h1.3M362.4 247.9h1.3M362.8 253.5h1.3M363.5 254.0h1.3M363.6 229.2h1.3M363.6 228.9h1.3M363.7 253.3h1.3M363.8 256.2h1.3M363.9 254.9h1.3M364.0 248.1h1.3M364.7 252.9h1.3M364.9 247.1h1.3M365.4 251.9h1.3M365.4 247.3h1.3M365.6 252.3h1.3M365.6 246.0h1.3M366.0 256.5h1.3M366.2 250.8h1.3M366.8 247.7h1.3M366.9 253.0h1.3M367.6 252.9h1.3M368.0 249.3h1.3M368.1 227.4h1.3M368.2 254.1h1.3M368.3 256.3h1.3M368.7 255.5h1.3M369.0 248.8h1.3M369.2 254.5h1.3M369.2 253.4h1.3M369.7 247.1h1.3M369.8 246.1h1.3M369.9 246.0h1.3M370.0 246.5h1.3M370.0 247.8h1.3M370.1 246.0h1.3M370.2 253.1h1.3M370.4 253.2h1.3M370.5 227.4h1.3M370.7 253.1h1.3M371.3 255.9h1.3M372.1 248.8h1.3M372.3 255.2h1.3M372.5 246.1h1.3M372.8 255.9h1.3M373.0 247.7h1.3M373.1 252.5h1.3M373.7 250.8h1.3M373.7 229.0h1.3M373.8 254.4h1.3M374.4 227.3h1.3M374.4 256.5h1.3M374.5 227.2h1.3M374.7 228.4h1.3M374.9 255.2h1.3M374.9 246.8h1.3M375.3 246.0h1.3M375.7 246.0h1.3M376.1 254.1h1.3M376.2 228.1h1.3M376.2 252.3h1.3M376.2 250.5h1.3M376.5 229.2h1.3M376.5 227.3h1.3M376.6 253.9h1.3M376.8 253.4h1.3M377.3 246.0h1.3M377.5 247.0h1.3M377.7 227.9h1.3M377.9 247.8h1.3M378.3 254.7h1.3M378.6 246.3h1.3M378.7 248.4h1.3M378.7 251.2h1.3M378.9 246.8h1.3M378.9 228.0h1.3M378.9 249.5h1.3M379.0 250.9h1.3M379.1 247.8h1.3M379.3 246.0h1.3M379.9 253.7h1.3M380.0 248.0h1.3M380.3 247.0h1.3M380.6 254.6h1.3M380.6 246.8h1.3M380.6 247.4h1.3M380.8 227.8h1.3M381.6 248.4h1.3M381.8 246.4h1.3M381.9 249.0h1.3M382.0 256.3h1.3M382.2 255.9h1.3M382.4 246.5h1.3M382.5 227.3h1.3M382.9 227.9h1.3M383.0 247.0h1.3M383.0 250.0h1.3M383.0 228.4h1.3M383.3 250.3h1.3M383.6 249.7h1.3M383.6 252.1h1.3M383.8 250.3h1.3M384.0 228.3h1.3M384.3 228.1h1.3M384.4 226.3h1.3M384.5 250.2h1.3M384.7 249.8h1.3M385.5 227.8h1.3M385.5 251.1h1.3M385.5 247.2h1.3M385.7 253.3h1.3M385.7 250.3h1.3M386.0 253.3h1.3M386.1 250.4h1.3M386.7 248.6h1.3M386.8 255.2h1.3M387.3 246.5h1.3M387.6 248.8h1.3M387.7 247.5h1.3M387.8 251.0h1.3M387.9 246.4h1.3M388.5 254.9h1.3M389.1 250.9h1.3M389.1 255.4h1.3M389.1 252.1h1.3M390.9 247.6h1.3M391.4 256.9h1.3M391.6 227.0h1.3M391.6 227.3h1.3M391.9 248.6h1.3M391.9 248.2h1.3M392.1 255.4h1.3M392.1 246.9h1.3M392.8 250.3h1.3M393.2 247.1h1.3M393.7 251.9h1.3M393.8 247.5h1.3M393.9 256.6h1.3M395.1 246.8h1.3M395.5 224.9h1.3M395.9 246.8h1.3M395.9 247.0h1.3M396.0 251.5h1.3M396.0 251.5h1.3M396.3 254.0h1.3M396.8 224.6h1.3M397.2 248.8h1.3M397.8 247.9h1.3M398.1 253.8h1.3M398.3 252.5h1.3M398.5 225.6h1.3M398.9 248.9h1.3M398.9 251.9h1.3M399.2 248.5h1.3M399.6 257.1h1.3M399.6 255.3h1.3M399.8 247.1h1.3M400.0 247.1h1.3M400.0 225.2h1.3M400.6 247.2h1.3M401.6 247.3h1.3M401.7 247.2h1.3M402.2 247.2h1.3M402.4 250.0h1.3M402.9 247.4h1.3M404.6 249.7h1.3M404.9 249.4h1.3M405.0 253.0h1.3M405.1 223.5h1.3M405.5 255.2h1.3M405.5 252.6h1.3M405.8 247.4h1.3M406.3 255.4h1.3M406.4 223.4h1.3M406.9 254.3h1.3M407.3 247.5h1.3M407.3 249.6h1.3M408.4 247.9h1.3M408.9 255.1h1.3M409.4 254.9h1.3M409.6 247.7h1.3M409.8 254.5h1.3M410.3 251.0h1.3M410.8 248.3h1.3M411.1 248.8h1.3M411.4 248.4h1.3M411.4 250.1h1.3M411.8 225.1h1.3M411.8 250.8h1.3M411.8 253.2h1.3M412.1 252.5h1.3M412.9 253.8h1.3M413.7 253.2h1.3M413.7 259.3h1.3M413.9 249.4h1.3M414.0 251.9h1.3M414.4 249.0h1.3M414.4 258.2h1.3M414.5 255.5h1.3M414.6 260.2h1.3M414.6 249.2h1.3M414.8 252.7h1.3M415.0 229.1h1.3M415.0 252.5h1.3M415.7 254.9h1.3M415.8 254.1h1.3M415.9 260.8h1.3M416.2 260.8h1.3M416.2 258.0h1.3M416.3 233.4h1.3M416.4 249.1h1.3M416.6 233.5h1.3M416.7 251.5h1.3M416.8 252.2h1.3M417.1 260.0h1.3M417.5 249.1h1.3M417.6 256.2h1.3M417.7 255.0h1.3M417.8 249.0h1.3M417.9 251.3h1.3M418.0 258.6h1.3M418.1 257.5h1.3M418.2 252.7h1.3M418.3 250.2h1.3M418.7 260.5h1.3M418.8 253.2h1.3M418.9 251.4h1.3M419.2 257.1h1.3M419.7 231.6h1.3M419.8 258.2h1.3M420.0 254.8h1.3M420.2 249.4h1.3M420.3 249.1h1.3M420.3 255.0h1.3M420.4 261.8h1.3M420.6 249.3h1.3M421.3 253.3h1.3M421.5 249.7h1.3M421.6 261.6h1.3M421.7 257.0h1.3M421.7 256.9h1.3M421.8 249.6h1.3M421.9 259.0h1.3M422.2 258.3h1.3M422.7 254.2h1.3M422.7 232.2h1.3M422.8 254.0h1.3M423.3 249.2h1.3M423.3 256.1h1.3M423.3 254.1h1.3M423.4 232.5h1.3M423.6 261.4h1.3M424.5 255.5h1.3M424.7 255.6h1.3M424.9 251.4h1.3M425.0 258.6h1.3M425.4 251.0h1.3M426.0 257.0h1.3M426.4 259.3h1.3M426.7 252.2h1.3M426.8 255.2h1.3M427.1 258.3h1.3M427.4 232.5h1.3M427.5 258.4h1.3M428.3 249.3h1.3M428.5 261.4h1.3M428.6 249.7h1.3M428.6 249.5h1.3M428.7 250.7h1.3M429.0 249.3h1.3M429.0 249.5h1.3M429.1 260.1h1.3M429.1 254.0h1.3M429.3 253.1h1.3M429.9 250.1h1.3M430.0 259.7h1.3M430.0 232.9h1.3M430.2 259.6h1.3M430.4 251.2h1.3M430.5 249.7h1.3M430.6 259.4h1.3M430.6 249.7h1.3M430.8 232.9h1.3M431.5 252.3h1.3M431.5 260.5h1.3M431.5 253.0h1.3M431.8 249.4h1.3M431.9 259.8h1.3M432.0 250.4h1.3M432.1 258.8h1.3M432.2 249.4h1.3M432.2 255.4h1.3M432.7 256.8h1.3M432.8 252.0h1.3M433.2 234.2h1.3M433.6 259.7h1.3M433.8 256.2h1.3M434.7 256.0h1.3M434.7 233.9h1.3M434.8 252.5h1.3M434.9 256.3h1.3M435.0 261.0h1.3M435.0 249.4h1.3M435.1 249.4h1.3M435.8 249.4h1.3M436.5 249.6h1.3M436.5 252.7h1.3M436.6 252.6h1.3M436.9 234.1h1.3M437.0 233.3h1.3M437.1 257.1h1.3M437.2 258.1h1.3M437.6 260.5h1.3M437.6 259.0h1.3M437.6 250.4h1.3M438.3 250.4h1.3M438.8 249.6h1.3M439.0 254.5h1.3M439.1 232.6h1.3M439.7 257.1h1.3M439.9 251.7h1.3M440.0 249.8h1.3M440.3 259.7h1.3M440.3 252.9h1.3M440.5 232.1h1.3M440.7 253.4h1.3M440.7 253.0h1.3M440.9 257.8h1.3M441.0 256.3h1.3M441.6 234.5h1.3M442.0 251.5h1.3M442.5 250.7h1.3M442.8 250.1h1.3M443.2 250.7h1.3M443.4 250.0h1.3M443.5 253.6h1.3M443.5 256.7h1.3M443.6 255.4h1.3M443.6 251.0h1.3M443.7 253.5h1.3M444.0 249.9h1.3M444.1 250.2h1.3M445.0 251.0h1.3M445.2 236.9h1.3M445.4 250.8h1.3M445.4 236.9h1.3M446.4 250.5h1.3M446.5 253.1h1.3M446.8 253.8h1.3M447.2 250.0h1.3M447.2 236.4h1.3M447.9 254.6h1.3M448.1 234.9h1.3M448.1 253.4h1.3M448.1 256.6h1.3M448.2 253.5h1.3M448.3 251.0h1.3M448.3 261.0h1.3M448.4 251.3h1.3M448.7 257.1h1.3M448.8 255.5h1.3M448.9 251.0h1.3M448.9 257.2h1.3M449.0 255.8h1.3M450.0 251.0h1.3M450.1 237.3h1.3M450.5 236.2h1.3M450.6 251.6h1.3M450.7 250.6h1.3M450.7 251.9h1.3M451.4 250.0h1.3M451.7 254.9h1.3M452.2 250.0h1.3M452.7 257.4h1.3M453.1 235.0h1.3M453.2 250.0h1.3M453.3 250.8h1.3M453.4 251.2h1.3M453.6 251.4h1.3M453.8 252.4h1.3M453.9 262.4h1.3M453.9 252.9h1.3M454.2 250.8h1.3M454.3 250.0h1.3M454.8 260.8h1.3M455.0 252.8h1.3M455.1 253.7h1.3M455.3 253.8h1.3M455.6 250.7h1.3M455.7 253.5h1.3M455.8 252.9h1.3M456.2 253.6h1.3M456.5 259.9h1.3M456.6 250.1h1.3M456.8 260.1h1.3M456.9 250.4h1.3M456.9 250.4h1.3M457.0 252.6h1.3M457.0 253.9h1.3M457.2 250.2h1.3M457.3 256.3h1.3M457.3 254.6h1.3M457.9 258.0h1.3M458.0 250.1h1.3M458.2 250.6h1.3M458.6 250.6h1.3M458.8 256.8h1.3M459.1 263.4h1.3M459.4 260.0h1.3M459.7 251.2h1.3M459.7 251.1h1.3M459.8 251.6h1.3M459.8 263.5h1.3M459.9 255.2h1.3M460.3 253.5h1.3M460.4 261.6h1.3M460.8 236.2h1.3M461.0 256.4h1.3M461.3 260.7h1.3M461.4 253.3h1.3M461.6 252.6h1.3M461.6 250.5h1.3M461.8 256.1h1.3M462.0 252.9h1.3M462.2 262.2h1.3M462.3 257.9h1.3M462.6 258.8h1.3M462.7 262.7h1.3M462.8 257.9h1.3M463.0 254.9h1.3M463.0 256.3h1.3M463.5 259.5h1.3M463.6 259.2h1.3M463.6 255.1h1.3M463.6 262.9h1.3M464.4 256.5h1.3M464.5 256.1h1.3M464.6 273.1h1.3M464.8 236.0h1.3M464.9 258.6h1.3M465.1 275.8h1.3M465.1 266.7h1.3M465.2 274.0h1.3M465.3 267.4h1.3M465.4 259.0h1.3M465.4 262.9h1.3M465.5 267.2h1.3M465.6 262.6h1.3M465.7 260.8h1.3M465.7 260.6h1.3M465.7 279.1h1.3M466.0 263.7h1.3M466.1 266.4h1.3M466.4 262.5h1.3M466.4 282.9h1.3M466.7 271.1h1.3M466.8 270.5h1.3M466.9 264.8h1.3M467.0 271.9h1.3M467.5 269.9h1.3M467.6 234.0h1.3M468.2 259.1h1.3M468.3 262.2h1.3M468.3 257.3h1.3M468.6 257.7h1.3M468.8 256.3h1.3M469.1 252.6h1.3M469.4 229.3h1.3M469.5 228.8h1.3M469.8 254.8h1.3M471.2 230.2h1.3M471.3 228.0h1.3M471.6 254.4h1.3M471.7 256.2h1.3M471.7 253.4h1.3M471.9 255.8h1.3M473.1 257.7h1.3M474.3 228.5h1.3M474.5 227.0h1.3M474.9 252.9h1.3M474.9 254.2h1.3M475.0 227.5h1.3M475.0 255.9h1.3M475.8 227.2h1.3M476.0 254.4h1.3M476.5 251.8h1.3M477.4 254.6h1.3M477.8 257.8h1.3M478.3 253.7h1.3M478.6 227.2h1.3M479.3 250.2h1.3M479.5 252.2h1.3M479.5 250.8h1.3M479.7 250.8h1.3M479.8 225.6h1.3M479.8 250.4h1.3M480.3 249.7h1.3M480.5 251.2h1.3M480.5 250.0h1.3M480.8 252.8h1.3M481.1 257.5h1.3M481.4 257.4h1.3M481.7 249.6h1.3M482.0 250.1h1.3M482.8 251.1h1.3M483.0 250.7h1.3M483.1 250.1h1.3M483.6 252.7h1.3M483.9 255.8h1.3M484.0 249.5h1.3M484.5 251.8h1.3M485.2 251.6h1.3M485.3 253.8h1.3M485.6 250.6h1.3M486.2 251.1h1.3M486.7 250.3h1.3M486.9 256.0h1.3M487.1 255.4h1.3M487.2 257.0h1.3M487.3 252.1h1.3M487.6 250.7h1.3M487.7 253.1h1.3M487.8 253.3h1.3M488.3 249.9h1.3M488.3 250.1h1.3M488.4 226.3h1.3M488.5 249.6h1.3M488.6 251.0h1.3M489.0 251.2h1.3M489.4 252.1h1.3M489.7 255.8h1.3M490.0 228.2h1.3M490.4 254.7h1.3M490.8 252.2h1.3M490.9 228.7h1.3M491.2 254.9h1.3M491.6 249.9h1.3M492.2 251.9h1.3M492.2 253.1h1.3M492.2 256.3h1.3M492.3 249.7h1.3M492.3 255.5h1.3M492.6 254.4h1.3M492.8 254.1h1.3M493.1 249.7h1.3M493.2 251.1h1.3M493.2 250.4h1.3M493.4 225.4h1.3M493.9 255.7h1.3M493.9 250.2h1.3M494.1 228.7h1.3M494.1 254.2h1.3M494.2 257.3h1.3M495.2 257.3h1.3M495.3 251.5h1.3M495.3 249.7h1.3M496.4 250.1h1.3M496.8 227.0h1.3M496.8 257.6h1.3M496.8 249.5h1.3M496.9 251.3h1.3M497.3 253.8h1.3M497.7 251.0h1.3M498.0 250.1h1.3M498.2 252.5h1.3M498.2 252.0h1.3M498.6 251.0h1.3M499.0 228.2h1.3M499.2 228.6h1.3M499.3 252.6h1.3M500.1 254.7h1.3M500.7 256.8h1.3M501.0 249.5h1.3M501.6 227.6h1.3M501.6 253.1h1.3M501.8 253.4h1.3M501.9 257.5h1.3M502.0 256.8h1.3M502.2 249.5h1.3M502.2 257.1h1.3M502.7 251.7h1.3M503.3 254.3h1.3M503.7 219.4h1.3M504.0 250.1h1.3M504.5 249.7h1.3M504.6 252.1h1.3M505.5 250.6h1.3M505.7 249.8h1.3M506.3 255.3h1.3M506.3 255.3h1.3M507.9 251.8h1.3M507.9 249.6h1.3M508.1 252.0h1.3M508.1 253.8h1.3M508.1 252.3h1.3M508.9 249.9h1.3M509.1 257.7h1.3M510.0 250.7h1.3M510.8 250.9h1.3M510.9 253.6h1.3M511.3 251.0h1.3M511.7 256.9h1.3M511.8 256.2h1.3M512.1 250.6h1.3M512.3 227.7h1.3M512.4 228.2h1.3M512.7 250.7h1.3M513.7 256.6h1.3M513.9 253.3h1.3M514.1 256.8h1.3M514.2 250.7h1.3M514.3 251.0h1.3M515.2 252.0h1.3M515.8 252.7h1.3M516.1 251.2h1.3M516.3 222.1h1.3M516.5 257.4h1.3M516.8 252.1h1.3M516.9 253.2h1.3M516.9 257.4h1.3M517.3 253.6h1.3M517.6 253.0h1.3M517.9 256.0h1.3M518.7 261.5h1.3M518.8 261.3h1.3M519.0 255.7h1.3M519.2 257.4h1.3M519.4 258.0h1.3M521.5 263.4h1.3M521.9 258.4h1.3M522.4 263.5h1.3M523.1 261.0h1.3M523.2 244.5h1.3M524.0 244.7h1.3M524.4 261.4h1.3M524.8 241.2h1.3M524.9 262.2h1.3M524.9 264.4h1.3M525.9 238.1h1.3M525.9 266.3h1.3M526.6 262.1h1.3M527.5 262.7h1.3M527.8 229.2h1.3M528.3 264.0h1.3M529.1 229.4h1.3M529.3 266.7h1.3M530.1 227.8h1.3M530.1 268.0h1.3M530.9 270.1h1.3M532.1 292.3h1.3M532.2 294.8h1.3M532.3 292.0h1.3M532.8 295.9h1.3" stroke="#555" stroke-width="1.3" fill="none"/>
<path d="M322.7 243.2h1.5M322.8 245.1h1.5M322.9 250.2h1.5M322.9 246.8h1.5M323.2 239.0h1.5M323.5 241.1h1.5M323.9 238.4h1.5M324.0 233.6h1.5M324.2 233.6h1.5M324.5 241.8h1.5M324.6 227.3h1.5M324.6 227.0h1.5M324.6 233.8h1.5M325.6 237.2h1.5M325.6 221.6h1.5M325.7 230.1h1.5M325.7 233.1h1.5M326.0 223.2h1.5M326.2 221.9h1.5M326.4 239.8h1.5M326.6 235.8h1.5M326.8 240.1h1.5M326.8 228.5h1.5M327.2 231.3h1.5M327.6 238.7h1.5M327.8 228.8h1.5M327.8 235.3h1.5M327.9 230.1h1.5M328.2 218.3h1.5M328.3 230.0h1.5M328.5 226.0h1.5M328.6 235.3h1.5M328.7 239.4h1.5M328.7 223.9h1.5M329.0 221.6h1.5M329.1 226.8h1.5M329.5 227.2h1.5M329.5 232.8h1.5M329.8 223.1h1.5M329.9 233.8h1.5M330.2 232.3h1.5M330.5 230.5h1.5M330.5 233.3h1.5M330.9 220.3h1.5M331.0 229.9h1.5M331.6 232.4h1.5M331.6 224.2h1.5M331.7 222.8h1.5M331.9 239.8h1.5M332.7 225.1h1.5M333.2 220.1h1.5M333.6 223.2h1.5M333.8 220.5h1.5M333.8 227.4h1.5M333.8 219.2h1.5M333.9 233.5h1.5M334.4 224.2h1.5M334.5 238.9h1.5M335.1 233.9h1.5M335.3 241.9h1.5M335.5 239.7h1.5M335.7 228.1h1.5M336.0 226.2h1.5M336.1 225.2h1.5M336.1 239.2h1.5M336.6 225.1h1.5M336.6 232.9h1.5M336.6 226.4h1.5M336.9 239.9h1.5M336.9 218.7h1.5M336.9 242.0h1.5M337.1 240.7h1.5M337.3 221.2h1.5M337.4 239.5h1.5M337.5 225.9h1.5M337.7 235.3h1.5M337.7 231.6h1.5M337.8 225.6h1.5M338.3 239.6h1.5M338.5 234.8h1.5M338.7 229.5h1.5M338.7 240.0h1.5M338.8 231.4h1.5M338.8 226.2h1.5M338.9 234.8h1.5M339.2 219.0h1.5M339.6 240.4h1.5M339.8 242.8h1.5M339.8 233.7h1.5M339.8 245.5h1.5M339.9 219.0h1.5M339.9 229.4h1.5M339.9 230.8h1.5M340.3 228.8h1.5M340.6 233.5h1.5M340.7 245.6h1.5M340.7 229.3h1.5M340.8 238.7h1.5M340.8 236.3h1.5M341.1 226.4h1.5M341.2 242.3h1.5M341.5 221.8h1.5M341.5 236.2h1.5M341.5 219.8h1.5M341.6 244.0h1.5M341.7 223.1h1.5M341.7 225.3h1.5M341.7 245.7h1.5M341.8 236.6h1.5M341.8 225.4h1.5M341.9 243.5h1.5M342.0 229.7h1.5M342.1 220.0h1.5M342.1 235.8h1.5M342.4 235.3h1.5M342.7 245.7h1.5M342.8 225.8h1.5M342.8 231.6h1.5M342.9 231.8h1.5M342.9 243.7h1.5M343.0 243.1h1.5M343.1 222.4h1.5M343.5 223.0h1.5M343.7 243.7h1.5M343.7 221.1h1.5M344.2 231.0h1.5M344.4 237.7h1.5M344.4 236.3h1.5M344.6 227.1h1.5M344.6 234.8h1.5M344.6 245.1h1.5M344.7 237.6h1.5M344.8 228.2h1.5M344.8 243.3h1.5M345.6 246.9h1.5M345.6 239.4h1.5M345.9 224.8h1.5M346.0 236.3h1.5M346.3 235.3h1.5M346.6 241.1h1.5M346.7 245.3h1.5M346.9 230.0h1.5M346.9 236.8h1.5M346.9 236.7h1.5M347.8 232.2h1.5M347.8 240.2h1.5M347.9 235.0h1.5M348.0 222.6h1.5M348.0 232.7h1.5M348.1 231.4h1.5M348.3 224.2h1.5M348.3 223.0h1.5M348.7 237.0h1.5M348.9 237.2h1.5M349.0 242.9h1.5M349.6 240.8h1.5M349.7 232.7h1.5M349.8 225.1h1.5M349.8 243.9h1.5M350.3 229.4h1.5M350.5 223.8h1.5M350.6 226.6h1.5M350.6 228.8h1.5M350.7 228.9h1.5M350.9 225.7h1.5M351.4 228.0h1.5M351.5 246.5h1.5M351.6 223.1h1.5M351.9 224.9h1.5M351.9 224.0h1.5M352.1 236.2h1.5M352.2 227.2h1.5M352.3 229.2h1.5M352.4 229.1h1.5M352.6 242.3h1.5M352.6 233.3h1.5M352.7 224.7h1.5M352.7 238.9h1.5M352.8 229.7h1.5M352.9 236.1h1.5M353.1 242.1h1.5M353.7 225.6h1.5M353.7 236.3h1.5M353.8 244.2h1.5M354.4 231.2h1.5M354.9 241.8h1.5M355.0 234.7h1.5M355.2 223.9h1.5M355.7 233.4h1.5M355.8 230.5h1.5M355.8 240.8h1.5M356.5 228.0h1.5M356.6 233.1h1.5M356.8 247.0h1.5M356.8 244.8h1.5M356.8 238.2h1.5M357.1 244.9h1.5M357.6 249.0h1.5M357.8 248.9h1.5M358.0 235.2h1.5M358.1 229.2h1.5M358.4 231.7h1.5M358.5 235.8h1.5M358.5 233.7h1.5M359.6 247.3h1.5M359.6 227.6h1.5M359.7 228.9h1.5M359.9 238.8h1.5M360.6 242.8h1.5M360.8 246.4h1.5M360.8 232.8h1.5M361.2 240.8h1.5M361.3 238.6h1.5M361.4 230.5h1.5M361.5 235.5h1.5M361.8 237.8h1.5M362.0 237.4h1.5M362.5 240.8h1.5M362.7 240.2h1.5M362.8 234.0h1.5M362.9 231.1h1.5M363.2 238.1h1.5M363.5 232.9h1.5M363.6 236.1h1.5M363.6 242.2h1.5M363.7 237.8h1.5M363.8 236.8h1.5M364.3 241.6h1.5M364.3 243.9h1.5M364.4 231.5h1.5M364.6 242.3h1.5M364.9 231.1h1.5M365.2 243.0h1.5M365.5 239.2h1.5M365.6 239.6h1.5M365.9 237.7h1.5M365.9 239.5h1.5M365.9 232.1h1.5M366.0 235.2h1.5M366.2 233.4h1.5M366.6 236.5h1.5M366.7 237.2h1.5M367.4 230.3h1.5M368.0 245.8h1.5M368.6 237.4h1.5M368.8 245.1h1.5M369.2 233.3h1.5M369.5 245.7h1.5M369.7 234.5h1.5M369.8 230.7h1.5M369.8 242.4h1.5M369.9 229.1h1.5M370.0 229.2h1.5M370.7 236.3h1.5M370.8 229.4h1.5M370.9 236.6h1.5M370.9 245.8h1.5M371.1 232.1h1.5M371.3 229.5h1.5M371.5 234.9h1.5M371.8 240.2h1.5M371.9 243.7h1.5M372.0 242.7h1.5M372.3 236.1h1.5M372.5 229.7h1.5M372.9 243.8h1.5M373.0 241.6h1.5M373.0 244.4h1.5M373.1 241.2h1.5M373.3 237.1h1.5M373.7 234.5h1.5M374.2 231.9h1.5M374.3 231.6h1.5M375.0 230.6h1.5M375.1 239.9h1.5M375.5 242.1h1.5M376.0 239.2h1.5M376.2 231.9h1.5M376.6 236.6h1.5M376.7 241.3h1.5M376.7 236.3h1.5M376.8 239.7h1.5M376.9 234.6h1.5M377.6 243.8h1.5M377.7 233.7h1.5M377.8 237.5h1.5M378.0 243.6h1.5M378.3 241.8h1.5M378.4 235.7h1.5M378.6 245.9h1.5M378.7 233.3h1.5M378.9 235.6h1.5M378.9 242.2h1.5M378.9 233.7h1.5M379.6 231.8h1.5M379.7 232.3h1.5M380.0 234.7h1.5M380.6 241.2h1.5M380.7 237.1h1.5M380.9 241.2h1.5M380.9 242.7h1.5M381.5 229.2h1.5M382.0 236.6h1.5M382.3 243.8h1.5M382.5 245.2h1.5M382.7 238.7h1.5M382.7 243.7h1.5M382.8 230.0h1.5M383.0 236.8h1.5M383.4 246.3h1.5M383.8 232.1h1.5M383.9 234.1h1.5M384.0 233.5h1.5M384.1 236.0h1.5M384.5 232.7h1.5M384.6 230.6h1.5M384.7 244.7h1.5M385.7 233.4h1.5M385.8 244.6h1.5M385.9 238.9h1.5M385.9 242.9h1.5M386.0 234.5h1.5M386.3 230.3h1.5M386.8 238.5h1.5M386.8 239.7h1.5M386.9 245.8h1.5M386.9 240.1h1.5M386.9 231.2h1.5M387.0 242.1h1.5M387.8 240.7h1.5M388.1 232.9h1.5M388.2 240.3h1.5M388.4 237.5h1.5M388.5 235.1h1.5M388.8 233.0h1.5M389.4 231.6h1.5M389.6 235.5h1.5M389.6 243.7h1.5M390.0 232.0h1.5M390.2 241.8h1.5M390.5 246.5h1.5M390.7 239.1h1.5M390.8 232.9h1.5M390.8 241.2h1.5M391.5 230.9h1.5M391.8 243.7h1.5M392.6 243.1h1.5M392.9 228.6h1.5M392.9 237.2h1.5M392.9 232.0h1.5M393.0 237.4h1.5M393.3 226.8h1.5M393.6 236.0h1.5M393.7 241.5h1.5M393.7 226.6h1.5M393.7 227.2h1.5M394.7 240.9h1.5M394.7 244.6h1.5M395.0 236.2h1.5M395.2 241.7h1.5M395.5 240.5h1.5M395.9 232.7h1.5M396.0 227.4h1.5M396.2 230.9h1.5M396.2 238.9h1.5M396.5 240.6h1.5M396.6 245.8h1.5M396.6 233.4h1.5M397.9 244.3h1.5M398.2 241.6h1.5M398.2 241.7h1.5M398.3 233.8h1.5M398.5 241.1h1.5M398.6 238.7h1.5M398.7 243.6h1.5M398.9 239.2h1.5M398.9 236.2h1.5M399.3 245.7h1.5M399.4 234.3h1.5M399.4 236.0h1.5M399.5 234.0h1.5M399.6 229.4h1.5M399.6 229.9h1.5M399.7 237.7h1.5M399.9 245.5h1.5M400.0 244.4h1.5M400.3 244.3h1.5M400.4 227.1h1.5M400.6 225.4h1.5M400.8 245.1h1.5M401.2 235.2h1.5M401.3 238.8h1.5M401.3 232.9h1.5M401.6 237.1h1.5M401.6 234.1h1.5M401.9 234.5h1.5M402.4 226.5h1.5M402.5 234.3h1.5M402.7 235.8h1.5M402.8 240.9h1.5M402.9 247.4h1.5M403.0 240.5h1.5M403.0 231.5h1.5M403.5 241.1h1.5M403.6 232.5h1.5M403.6 237.2h1.5M403.7 245.6h1.5M403.9 246.0h1.5M404.1 236.8h1.5M404.4 239.1h1.5M404.7 234.5h1.5M405.0 242.5h1.5M405.0 236.8h1.5M405.2 242.6h1.5M405.3 240.5h1.5M405.4 241.6h1.5M405.5 242.4h1.5M405.7 232.5h1.5M405.7 247.2h1.5M405.8 239.3h1.5M406.2 247.2h1.5M406.5 229.3h1.5M406.6 233.7h1.5M406.6 234.8h1.5M406.6 243.4h1.5M406.6 228.6h1.5M407.0 230.5h1.5M407.5 228.8h1.5M407.8 235.9h1.5M407.9 244.4h1.5M408.0 235.1h1.5M408.3 225.5h1.5M408.4 246.5h1.5M408.4 243.9h1.5M408.5 241.1h1.5M408.9 227.8h1.5M409.7 228.0h1.5M409.8 231.7h1.5M410.7 234.8h1.5M410.8 236.8h1.5M410.8 231.8h1.5M411.0 235.3h1.5M411.1 245.0h1.5M411.4 233.8h1.5M411.5 225.8h1.5M411.5 231.6h1.5M411.5 236.4h1.5M411.7 229.6h1.5M411.7 240.3h1.5M411.8 226.7h1.5M411.9 240.6h1.5M412.0 239.3h1.5M412.1 246.5h1.5M412.2 237.9h1.5M412.6 227.2h1.5M412.8 246.3h1.5M412.9 248.0h1.5M412.9 237.9h1.5M412.9 240.4h1.5M413.0 230.7h1.5M413.2 246.2h1.5M413.5 232.5h1.5M413.8 235.6h1.5M413.9 242.6h1.5M414.2 234.4h1.5M414.8 238.3h1.5M415.1 239.9h1.5M415.4 247.3h1.5M415.8 239.8h1.5M415.9 237.1h1.5M415.9 238.4h1.5M416.1 246.0h1.5M416.8 234.3h1.5M416.9 240.1h1.5M416.9 240.8h1.5M417.0 239.2h1.5M417.5 234.7h1.5M419.0 238.7h1.5M419.5 236.7h1.5M419.7 240.5h1.5M420.1 245.7h1.5M420.5 239.4h1.5M420.6 240.8h1.5M421.2 239.9h1.5M422.1 234.7h1.5M422.1 235.8h1.5M422.4 244.9h1.5M422.6 239.7h1.5M422.7 236.0h1.5M422.8 239.7h1.5M422.8 242.8h1.5M423.2 238.3h1.5M423.2 239.5h1.5M424.1 245.8h1.5M424.3 234.1h1.5M424.3 237.6h1.5M424.5 240.7h1.5M424.6 238.4h1.5M424.7 246.8h1.5M424.9 248.5h1.5M425.0 238.0h1.5M425.1 241.9h1.5M425.1 248.2h1.5M425.8 236.7h1.5M426.1 242.2h1.5M426.4 241.2h1.5M426.7 240.8h1.5M426.8 241.7h1.5M426.8 248.9h1.5M426.8 246.5h1.5M426.9 245.3h1.5M427.2 244.8h1.5M427.3 240.1h1.5M427.3 247.7h1.5M427.6 240.5h1.5M427.6 234.5h1.5M427.6 247.0h1.5M427.8 248.3h1.5M427.9 245.3h1.5M429.0 239.6h1.5M429.2 246.7h1.5M429.5 236.8h1.5M429.6 247.8h1.5M429.7 235.0h1.5M429.9 235.5h1.5M430.2 236.1h1.5M431.0 245.2h1.5M431.3 238.4h1.5M431.4 241.6h1.5M432.0 242.5h1.5M432.0 244.4h1.5M432.2 241.3h1.5M432.2 243.2h1.5M432.3 246.7h1.5M433.3 247.5h1.5M433.6 248.0h1.5M433.7 239.0h1.5M433.8 236.1h1.5M433.9 246.8h1.5M434.2 237.7h1.5M434.4 238.1h1.5M435.1 236.0h1.5M435.8 244.7h1.5M435.9 243.6h1.5M436.0 243.9h1.5M437.1 248.6h1.5M437.7 245.2h1.5M437.8 248.9h1.5M437.9 239.2h1.5M437.9 237.2h1.5M438.2 241.9h1.5M438.6 246.0h1.5M439.7 247.4h1.5M439.9 239.4h1.5M440.0 245.0h1.5M440.3 234.0h1.5M440.9 237.6h1.5M441.2 241.7h1.5M441.2 237.2h1.5M441.4 245.4h1.5M441.8 241.5h1.5M441.9 239.2h1.5M442.1 238.1h1.5M442.6 245.0h1.5M442.7 242.6h1.5M442.7 247.9h1.5M442.7 241.8h1.5M442.7 245.9h1.5M442.8 247.2h1.5M443.3 238.1h1.5M443.5 247.5h1.5M443.6 248.9h1.5M443.6 241.4h1.5M444.2 239.4h1.5M444.4 249.7h1.5M444.7 247.2h1.5M445.0 249.9h1.5M445.4 240.6h1.5M445.5 249.4h1.5M445.7 244.9h1.5M445.8 250.2h1.5M446.0 237.8h1.5M446.3 240.9h1.5M446.3 242.1h1.5M446.8 242.8h1.5M447.4 248.4h1.5M447.5 236.7h1.5M447.7 248.2h1.5M447.8 247.0h1.5M448.2 242.3h1.5M448.3 239.6h1.5M448.7 238.3h1.5M449.5 246.5h1.5M449.7 237.9h1.5M449.9 249.0h1.5M450.0 244.1h1.5M450.6 249.1h1.5M451.2 238.7h1.5M451.4 243.2h1.5M452.0 244.3h1.5M452.2 249.1h1.5M452.4 243.0h1.5M452.5 241.7h1.5M452.5 238.4h1.5M453.1 247.5h1.5M453.1 250.1h1.5M454.7 238.6h1.5M454.9 248.1h1.5M455.0 243.2h1.5M455.3 244.6h1.5M455.3 240.3h1.5M455.4 239.0h1.5M455.8 237.8h1.5M455.8 237.5h1.5M456.2 242.2h1.5M456.4 240.0h1.5M456.6 245.0h1.5M456.6 237.2h1.5M457.0 238.8h1.5M457.3 240.4h1.5M457.4 239.2h1.5M457.6 249.8h1.5M457.6 242.9h1.5M457.7 246.4h1.5M457.7 243.7h1.5M457.9 247.1h1.5M457.9 249.6h1.5M458.7 239.4h1.5M458.8 239.0h1.5M458.9 246.3h1.5M460.4 239.6h1.5M460.6 245.6h1.5M460.7 247.1h1.5M460.9 240.3h1.5M461.0 248.0h1.5M461.3 244.3h1.5M461.6 248.0h1.5M461.8 246.2h1.5M462.2 244.5h1.5M462.2 242.1h1.5M462.3 242.9h1.5M462.6 249.8h1.5M463.1 246.6h1.5M463.6 247.6h1.5M463.6 252.6h1.5M463.9 249.6h1.5M463.9 242.0h1.5M463.9 238.4h1.5M465.0 249.0h1.5M465.5 242.9h1.5M466.0 257.7h1.5M466.7 240.3h1.5M466.7 256.3h1.5M467.3 248.2h1.5M467.7 246.5h1.5M467.7 236.7h1.5M468.0 245.5h1.5M468.1 241.6h1.5M468.2 252.8h1.5M468.4 243.2h1.5M468.5 246.9h1.5M468.7 242.2h1.5M468.9 235.1h1.5M469.2 237.4h1.5M469.4 249.8h1.5M469.4 240.6h1.5M469.7 234.3h1.5M469.7 230.8h1.5M469.9 234.8h1.5M470.9 230.7h1.5M470.9 250.8h1.5M471.3 235.1h1.5M471.3 238.4h1.5M471.4 236.8h1.5M471.4 238.3h1.5M471.5 239.3h1.5M471.8 240.9h1.5M472.3 241.1h1.5M472.4 241.9h1.5M472.4 236.2h1.5M472.7 233.1h1.5M472.7 235.2h1.5M472.7 243.0h1.5M472.9 248.9h1.5M473.1 250.0h1.5M473.5 237.5h1.5M473.6 237.9h1.5M473.6 245.6h1.5M473.7 232.9h1.5M473.7 230.5h1.5M473.9 242.7h1.5M473.9 236.2h1.5M474.2 239.7h1.5M474.7 246.4h1.5M475.0 249.6h1.5M475.5 231.5h1.5M475.6 227.3h1.5M475.7 237.2h1.5M476.0 249.2h1.5M476.1 231.5h1.5M476.4 237.6h1.5M476.5 243.0h1.5M476.6 243.0h1.5M476.8 230.8h1.5M477.0 227.3h1.5M477.1 240.8h1.5M477.4 234.6h1.5M477.8 248.0h1.5M477.9 240.3h1.5M478.3 232.3h1.5M478.5 240.7h1.5M478.7 235.1h1.5M478.8 244.2h1.5M478.8 244.5h1.5M478.9 235.9h1.5M479.3 230.1h1.5M479.5 228.9h1.5M479.9 239.5h1.5M480.0 244.7h1.5M480.4 248.4h1.5M480.6 248.2h1.5M480.7 248.7h1.5M480.8 240.9h1.5M480.9 231.9h1.5M481.0 226.5h1.5M481.2 230.3h1.5M481.7 231.0h1.5M481.8 240.2h1.5M481.9 225.8h1.5M482.4 239.1h1.5M482.4 229.8h1.5M482.6 237.0h1.5M482.7 236.3h1.5M482.8 245.4h1.5M482.8 230.9h1.5M483.0 243.1h1.5M483.2 228.2h1.5M483.4 241.3h1.5M483.8 239.9h1.5M484.0 221.8h1.5M484.0 222.3h1.5M484.8 245.4h1.5M484.8 241.8h1.5M485.0 237.8h1.5M485.2 230.4h1.5M485.7 248.4h1.5M485.7 244.2h1.5M485.8 229.6h1.5M486.0 240.9h1.5M486.7 242.4h1.5M486.9 233.3h1.5M486.9 244.2h1.5M487.0 242.5h1.5M487.0 239.3h1.5M487.0 239.7h1.5M487.1 247.7h1.5M487.2 248.0h1.5M487.5 248.6h1.5M487.5 238.9h1.5M487.5 234.4h1.5M487.7 238.4h1.5M488.5 243.6h1.5M488.5 235.7h1.5M488.6 245.6h1.5M489.1 237.3h1.5M489.3 249.1h1.5M489.8 238.9h1.5M489.9 239.1h1.5M490.0 241.4h1.5M490.4 246.0h1.5M490.8 249.4h1.5M490.8 239.8h1.5M491.0 241.7h1.5M491.2 239.2h1.5M491.3 231.2h1.5M491.5 234.4h1.5M491.7 238.7h1.5M491.7 230.1h1.5M491.8 232.2h1.5M491.9 239.8h1.5M491.9 239.1h1.5M492.4 243.9h1.5M492.4 243.6h1.5M492.6 239.0h1.5M492.9 247.8h1.5M493.2 226.8h1.5M493.4 232.2h1.5M493.5 246.6h1.5M493.6 229.7h1.5M493.6 231.8h1.5M493.6 239.8h1.5M493.7 235.0h1.5M493.7 232.8h1.5M494.6 237.8h1.5M494.6 229.2h1.5M494.6 232.1h1.5M494.7 235.6h1.5M494.9 244.4h1.5M495.1 244.4h1.5M495.4 224.1h1.5M495.6 238.2h1.5M495.6 247.9h1.5M495.7 239.4h1.5M495.8 230.7h1.5M496.2 235.7h1.5M496.4 236.8h1.5M496.5 232.9h1.5M496.6 245.5h1.5M496.8 243.7h1.5M496.9 242.6h1.5M497.4 240.1h1.5M497.6 243.8h1.5M498.2 240.9h1.5M498.5 231.2h1.5M498.7 235.1h1.5M498.8 243.3h1.5M499.0 230.8h1.5M499.2 239.1h1.5M499.3 230.1h1.5M499.3 234.6h1.5M499.3 233.8h1.5M499.6 240.5h1.5M500.1 233.7h1.5M500.2 244.8h1.5M500.9 244.8h1.5M501.6 226.5h1.5M501.7 245.2h1.5M501.7 226.0h1.5M502.1 241.9h1.5M502.4 225.9h1.5M502.5 233.0h1.5M502.6 225.7h1.5M502.8 240.7h1.5M502.9 246.3h1.5M503.0 223.1h1.5M503.3 244.8h1.5M503.6 221.0h1.5M503.8 227.2h1.5M503.8 247.2h1.5M503.9 223.7h1.5M503.9 219.2h1.5M504.0 237.6h1.5M504.2 247.9h1.5M504.5 234.6h1.5M504.6 236.3h1.5M505.0 237.2h1.5M505.3 243.9h1.5M505.7 246.4h1.5M505.7 228.3h1.5M505.7 233.6h1.5M505.9 242.9h1.5M506.0 238.5h1.5M506.5 240.7h1.5M506.5 241.3h1.5M506.7 231.0h1.5M507.2 244.2h1.5M508.5 233.4h1.5M508.6 233.1h1.5M508.9 228.7h1.5M508.9 231.6h1.5M509.0 227.8h1.5M509.4 221.3h1.5M509.4 247.6h1.5M509.5 235.3h1.5M509.5 240.0h1.5M509.7 237.0h1.5M510.0 242.9h1.5M510.2 240.5h1.5M510.5 236.1h1.5M510.7 244.8h1.5M510.9 227.0h1.5M511.3 243.5h1.5M511.7 237.2h1.5M511.8 228.7h1.5M511.9 231.8h1.5M512.5 227.5h1.5M512.7 241.1h1.5M512.7 230.3h1.5M512.7 247.3h1.5M512.8 237.9h1.5M513.2 229.7h1.5M513.4 233.6h1.5M513.6 240.9h1.5M513.9 246.8h1.5M514.4 240.0h1.5M514.4 239.4h1.5M514.7 246.8h1.5M514.7 241.5h1.5M514.8 234.8h1.5M514.8 248.0h1.5M514.8 238.5h1.5M514.9 233.1h1.5M514.9 226.6h1.5M514.9 232.8h1.5M515.3 249.4h1.5M515.4 246.6h1.5M515.5 250.7h1.5M515.7 249.8h1.5M516.0 243.9h1.5M516.0 248.9h1.5M516.0 250.5h1.5M516.1 247.5h1.5M516.4 246.6h1.5M516.6 229.5h1.5M516.6 227.7h1.5M516.7 224.4h1.5M516.8 237.5h1.5M516.9 239.0h1.5M516.9 240.8h1.5M517.1 240.2h1.5M517.3 238.8h1.5M517.5 243.2h1.5M517.6 226.0h1.5M517.6 246.3h1.5M517.6 230.0h1.5M517.7 242.5h1.5M518.1 240.8h1.5M518.1 239.6h1.5M518.5 250.3h1.5M518.5 253.7h1.5M518.7 250.2h1.5M518.8 237.8h1.5M518.8 256.1h1.5M518.9 252.8h1.5M518.9 247.8h1.5M519.3 243.8h1.5M519.6 248.3h1.5M519.8 245.0h1.5M520.1 252.2h1.5M520.4 245.9h1.5M520.6 250.5h1.5M520.7 254.7h1.5M520.9 248.0h1.5M521.0 255.8h1.5M521.8 250.6h1.5M522.0 250.6h1.5M522.1 256.1h1.5M522.1 250.3h1.5M522.6 247.9h1.5M522.9 258.6h1.5M523.4 249.9h1.5M523.6 254.7h1.5M523.9 257.8h1.5M524.1 250.8h1.5M524.3 247.8h1.5M524.5 250.4h1.5M524.6 262.1h1.5M524.7 246.2h1.5M524.9 246.2h1.5M525.8 258.2h1.5M525.8 247.3h1.5M526.4 255.2h1.5M526.7 255.7h1.5M526.7 247.9h1.5M526.8 247.2h1.5M526.8 256.5h1.5M526.9 257.5h1.5M526.9 233.5h1.5M527.2 255.1h1.5M527.2 249.6h1.5M527.5 257.0h1.5M527.6 262.0h1.5M527.7 255.3h1.5M527.7 253.3h1.5M527.8 256.5h1.5M527.8 254.5h1.5M527.8 232.6h1.5M528.4 239.5h1.5M528.5 234.9h1.5M528.6 252.1h1.5M528.7 252.1h1.5M528.8 233.1h1.5M529.0 253.0h1.5M529.5 247.3h1.5M529.6 252.2h1.5M529.7 257.1h1.5M529.7 233.6h1.5M529.7 248.6h1.5M529.7 245.1h1.5M529.8 254.7h1.5M529.9 252.5h1.5M529.9 237.9h1.5M530.0 248.1h1.5M530.2 242.9h1.5M530.3 262.0h1.5M530.6 247.3h1.5M530.6 244.6h1.5M530.6 289.3h1.5M530.8 251.5h1.5M530.9 273.4h1.5M531.0 282.4h1.5M531.1 237.5h1.5M531.2 234.7h1.5M531.2 260.0h1.5M531.2 251.1h1.5M531.3 235.4h1.5M531.4 247.4h1.5M531.5 276.7h1.5M531.5 243.7h1.5M531.6 251.8h1.5M531.6 279.8h1.5M531.6 274.3h1.5M531.7 236.8h1.5M531.7 269.9h1.5M531.7 239.1h1.5M531.8 285.6h1.5M531.8 254.9h1.5M531.9 248.6h1.5M531.9 233.7h1.5M531.9 241.6h1.5M531.9 247.8h1.5M531.9 254.1h1.5M532.1 267.7h1.5M532.1 276.1h1.5M532.4 278.3h1.5M532.4 240.5h1.5M532.4 290.3h1.5M532.6 280.9h1.5M532.7 240.4h1.5" stroke="#404040" stroke-width="1.5" fill="none"/>
<path d="M324.6 239.1h1.5M336.0 227.3h1.5M336.2 231.4h1.5M340.8 234.8h1.5M349.7 244.3h1.5M360.1 240.8h1.5M376.5 237.5h1.5M385.7 241.1h1.5M387.3 245.7h1.5M391.3 229.6h1.5M392.4 239.5h1.5M398.9 242.2h1.5M407.6 244.6h1.5M410.7 237.3h1.5M416.7 236.7h1.5M422.5 239.2h1.5M425.2 238.9h1.5M431.8 240.4h1.5M432.0 234.9h1.5M435.3 238.9h1.5M443.9 240.0h1.5M446.5 249.8h1.5M452.9 249.8h1.5M456.7 249.1h1.5M457.7 245.4h1.5M475.7 233.6h1.5M483.0 242.8h1.5M484.6 230.2h1.5M484.7 237.8h1.5M486.6 233.7h1.5M495.0 235.6h1.5M496.0 238.0h1.5M506.8 228.1h1.5M508.0 241.7h1.5M517.8 239.5h1.5M530.6 282.1h1.5M531.6 268.4h1.5M532.4 262.2h1.5" stroke="#d7d7d7" stroke-width="1.5" fill="none"/>
<path d="M371.8 259.4h1.2M372.3 259.0h1.2M372.9 258.0h1.2M419.2 261.7h1.2M419.4 263.7h1.2M419.7 261.1h1.2M467.7 272.1h1.2M468.0 301.4h1.2M468.2 313.7h1.2M468.3 269.9h1.2M468.4 302.1h1.2M468.5 278.5h1.2M468.6 267.5h1.2M468.6 298.2h1.2M468.8 263.5h1.2M469.1 276.9h1.2M469.1 293.4h1.2M469.2 282.9h1.2M469.2 265.4h1.2M469.6 285.3h1.2M530.6 305.0h1.2M530.8 297.8h1.2M531.1 309.9h1.2M531.3 310.7h1.2M531.4 300.0h1.2M531.4 294.1h1.2M532.2 295.1h1.2M532.5 303.1h1.2" stroke="#444" stroke-width="1.2" fill="none"/>
<path d="M319.4 258.4 L322.5 240.0 L323.5 224.0 L323.8 220.6 L325.5 232.2 L328.2 222.9 L330.0 237.1 L332.4 224.7 L334.6 236.2 L336.6 226.1 L339.2 236.2 L341.7 231.3 L343.9 235.4M324.7 221.9 L327.1 234.9 L328.9 226.7 L330.8 236.1 L333.4 223.8 L335.6 236.6" stroke="#0d0d0d" stroke-width="1.45" fill="none" stroke-linejoin="round"/>
<path d="M335.6 236.6 L345.0 236.4 L346.0 236.5 L346.9 236.8 L348.0 235.7 L349.0 237.1 L350.0 236.4 L350.8 236.0 L352.1 235.9 L353.0 235.6 L353.9 236.4 L355.0 237.0 L356.1 237.7 L357.0 237.6 L358.0 237.1 L359.0 236.9 L360.0 237.4 L360.9 235.7 L362.0 237.0 L363.1 237.4 L364.1 237.4 L365.0 237.2 L366.1 237.2 L367.0 237.3 L367.8 236.0 L368.9 236.4 L370.0 236.4 L371.1 236.9 L371.9 236.4 L372.8 235.4 L373.9 236.4 L375.2 236.4 L376.1 236.1 L376.8 235.7 L378.0 236.2 L378.9 237.5 L380.0 236.4 L381.0 236.6 L382.0 237.6 L383.0 236.8 L383.9 235.6 L384.9 236.2 L386.1 236.4 L386.9 235.6 L387.9 235.1 L389.1 235.4 L390.0 235.7 L391.2 235.3 L391.9 235.6 L392.8 235.8 L394.0 234.6 L395.0 235.1 L395.9 234.6 L397.0 235.0 L397.9 233.8 L398.9 234.2 L400.0 234.4 L401.0 232.8 L401.8 235.0 L402.8 235.0 L404.1 235.0 L405.0 234.4 L406.2 235.4 L407.2 234.0 L408.1 235.1 L409.0 236.1 L410.0 235.7 L410.9 235.9 L411.8 236.6 L413.0 237.4 L414.0 238.3 L415.2 238.9 L415.9 239.6 L417.0 237.7 L418.2 239.5 L419.1 240.6 L420.0 239.6 L420.8 240.9 L422.1 239.6 L422.9 240.4 L423.8 239.5 L425.1 238.1 L425.8 239.3 L427.1 239.8 L427.8 240.3 L429.1 240.4 L430.0 240.3 L431.1 239.6 L432.1 240.0 L433.0 240.9 L434.0 240.6 L435.0 240.6 L436.1 241.5 L436.9 240.4 L437.9 241.9 L439.1 240.7 L440.0 240.9 L441.2 241.0 L441.8 241.0 L443.1 241.7 L444.1 241.8 L445.0 242.2 L446.0 242.1 L446.9 241.5 L447.9 241.0 L448.9 242.4 L450.0 242.8 L451.1 243.1 L452.2 243.6 L452.9 243.7 L454.1 242.8 L455.0 243.5 L455.8 243.3 L456.9 243.5 L458.2 244.1 L459.1 243.5 L460.0 243.2 L461.0 243.9 L461.9 242.3 L462.9 243.4 L463.9 243.0 L465.0 244.5 L466.1 243.6 L467.1 243.0 L468.0 243.2 L469.0 239.9 L470.0 237.0 L471.1 236.9 L471.8 237.7 L473.2 236.0 L474.2 235.9 L475.0 236.9 L476.1 236.3 L477.1 235.3 L478.0 235.3 L478.9 235.6 L479.9 235.8 L481.0 237.1 L481.9 237.0 L483.2 238.1 L484.0 237.1 L485.0 238.0 L486.1 237.6 L487.1 237.8 L487.8 239.1 L488.8 239.1 L490.0 239.0 L491.0 238.4 L492.1 239.5 L492.8 238.0 L494.0 239.5 L495.0 238.5 L496.0 238.5 L496.9 239.0 L498.1 238.7 L498.9 237.9 L500.0 238.0 L501.0 237.6 L501.8 237.1 L503.1 238.0 L503.9 236.4 L505.0 237.0 L505.8 236.6 L507.0 236.4 L508.1 235.8 L508.9 235.8 L510.0 235.9 L510.9 238.9 L512.0 238.0 L513.0 238.3 L514.1 238.1 L515.0 238.4 L516.0 239.0 L517.0 242.5 L518.0 244.2 L519.0 247.2 L521.0 251.1 L523.0 248.5 L525.0 242.7 L526.0 240.7 L528.0 244.6 L530.0 253.7 L531.0 262.0 L531.3 292.0" stroke="#0d0d0d" stroke-width="1.85" fill="none" stroke-linejoin="round"/>
<path d="M308.45 207.4H543.45V353.45H308.45Z" fill="none" stroke="#6a6a6a" stroke-width="1.3"/>
<path d="M310.5 353.4v2.4M361.98 353.4v2.4M413.46 353.4v2.4M464.94 353.4v2.4M516.42 353.4v2.4M308.5 352.98h-2.4M308.5 323.94h-2.4M308.5 294.9h-2.4M308.5 265.86h-2.4M308.5 236.82h-2.4M308.5 207.78h-2.4" stroke="#222" stroke-width="0.85" fill="none"/>
<text x="310.5" y="363.45" text-anchor="middle" class="t">0</text>
<text x="361.98" y="363.45" text-anchor="middle" class="t">10,000</text>
<text x="413.46" y="363.45" text-anchor="middle" class="t">20,000</text>
<text x="464.94" y="363.45" text-anchor="middle" class="t">30,000</text>
<text x="516.42" y="363.45" text-anchor="middle" class="t">40,000</text>
<text x="304.1" y="356.48" text-anchor="end" class="t">0.0</text>
<text x="304.1" y="327.44" text-anchor="end" class="t">0.2</text>
<text x="304.1" y="298.4" text-anchor="end" class="t">0.4</text>
<text x="304.1" y="269.36" text-anchor="end" class="t">0.6</text>
<text x="304.1" y="240.32" text-anchor="end" class="t">0.8</text>
<text x="304.1" y="211.28" text-anchor="end" class="t">1.0</text>
<text x="425.9" y="204" text-anchor="middle" class="ti">VTD</text>
<text x="415.3" y="377.4" class="m">P</text>
<text x="421.4" y="373.8" class="ms">te</text>
<text x="421.1" y="380.3" class="ms">start</text>
<g transform="translate(286.8,286.95) rotate(-90)"><text x="0" y="0" class="m">R</text><text x="2.2" y="-3" class="m" style="font-style:normal;font-size:7.5px;stroke-width:0.1px">&#x2DC;</text><text x="6.1" y="1.3" class="ms">te</text></g>
</svg></body></html>
